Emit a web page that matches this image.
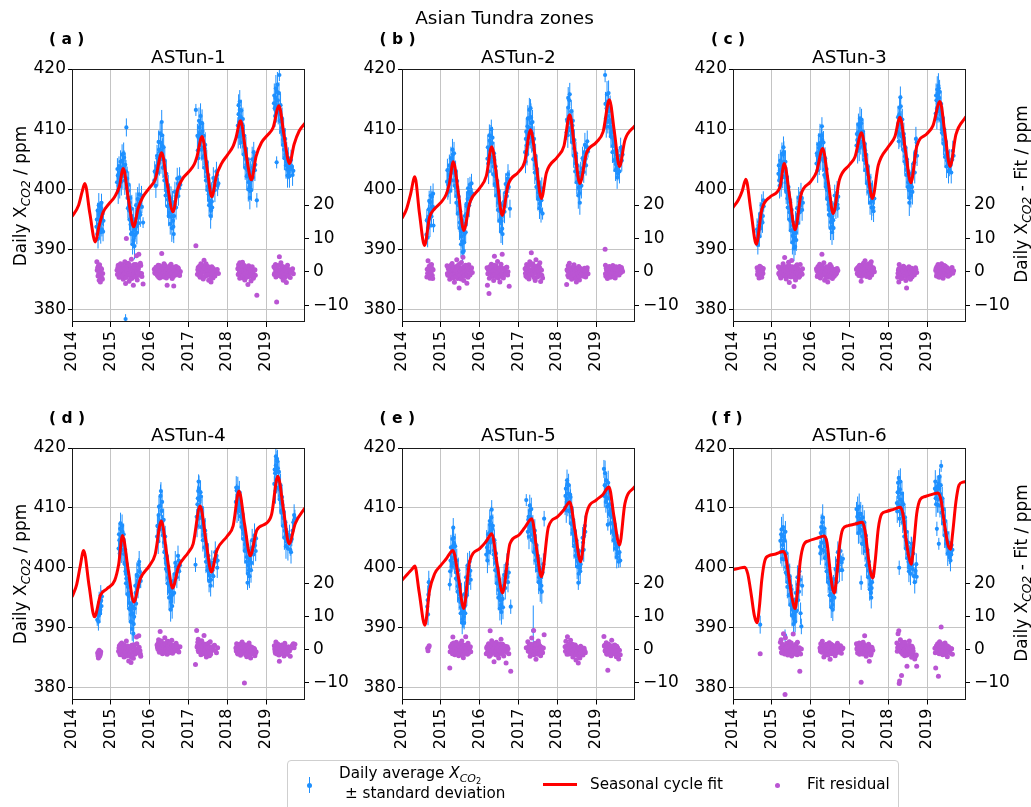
<!DOCTYPE html>
<html><head><meta charset="utf-8">
<script src="https://cdn.jsdelivr.net/npm/chart.js@4.4.0/dist/chart.umd.min.js"></script>
<style>
html,body{margin:0;padding:0;background:#fff}
body{width:1031px;height:807px;overflow:hidden;position:relative;font-family:"DejaVu Sans",sans-serif;color:#000}
.t{position:absolute;white-space:nowrap;line-height:1}
.c{transform:translate(-50%,-50%)}
.r{transform:translate(-50%,-50%) rotate(-90deg)}
.sb{font-style:italic;font-size:0.72em;position:relative;top:0.3em}
.sb2{font-size:0.75em;position:relative;top:0.25em;font-style:normal}
</style></head><body>
<script>
// ---------------- DATA ----------------
const XTICKS = [2014, 2015, 2016, 2017, 2018, 2019];
const YTICKS = [380, 390, 400, 410, 420];
const Y2TICKS = [-10, 0, 10, 20];
const TITLES = ['ASTun-1', 'ASTun-2', 'ASTun-3', 'ASTun-4', 'ASTun-5', 'ASTun-6'];
const LETTERS = ['( a )', '( b )', '( c )', '( d )', '( e )', '( f )'];

// Seasonal cycle fit  [decimal year, ppm]
const FIT_A = [[2014.00,395.5],[2014.17,397.4],[2014.26,399.6],[2014.33,401.0],[2014.46,396.0],[2014.60,391.3],[2014.70,394.0],[2014.80,396.2],[2014.95,397.6],[2015.10,398.8],[2015.22,400.5],[2015.32,403.5],[2015.45,398.5],[2015.59,393.8],[2015.70,396.8],[2015.82,398.7],[2016.00,400.3],[2016.15,401.8],[2016.31,406.1],[2016.45,401.0],[2016.60,396.3],[2016.72,400.0],[2016.85,401.8],[2017.00,402.9],[2017.15,404.2],[2017.22,405.5],[2017.35,408.8],[2017.48,403.5],[2017.60,398.8],[2017.72,402.3],[2017.85,404.3],[2018.00,405.7],[2018.15,407.2],[2018.22,408.5],[2018.34,411.4],[2018.48,406.0],[2018.62,401.6],[2018.74,405.5],[2018.88,407.8],[2019.03,409.0],[2019.18,410.3],[2019.33,413.9],[2019.46,409.0],[2019.60,404.3],[2019.72,407.5],[2019.85,409.7],[2020.00,411.0]];
const FIT_B = [[2014.00,395.2],[2014.12,396.8],[2014.22,399.2],[2014.33,402.1],[2014.45,396.0],[2014.58,390.7],[2014.71,395.4],[2014.84,396.8],[2015.01,397.9],[2015.14,399.2],[2015.22,401.0],[2015.32,404.6],[2015.46,399.0],[2015.59,393.2],[2015.75,397.9],[2016.00,400.2],[2016.17,402.2],[2016.31,407.1],[2016.45,401.5],[2016.58,395.7],[2016.73,400.7],[2017.00,402.9],[2017.16,404.6],[2017.31,409.9],[2017.45,404.5],[2017.59,398.5],[2017.72,402.8],[2018.00,405.4],[2018.17,407.2],[2018.32,412.4],[2018.45,406.5],[2018.58,401.0],[2018.75,406.0],[2019.00,407.8],[2019.18,409.6],[2019.34,414.9],[2019.47,409.5],[2019.60,403.8],[2019.74,408.2],[2020.00,410.6]];
const FIT_C = [[2014.00,397.0],[2014.14,398.3],[2014.24,399.8],[2014.33,401.7],[2014.46,396.5],[2014.60,390.9],[2014.74,396.6],[2014.96,398.8],[2015.21,400.4],[2015.32,404.3],[2015.46,398.8],[2015.60,393.3],[2015.75,399.1],[2016.00,401.3],[2016.15,402.9],[2016.31,406.8],[2016.45,401.4],[2016.58,396.0],[2016.74,401.6],[2017.00,404.1],[2017.14,405.4],[2017.31,409.4],[2017.45,404.0],[2017.59,398.5],[2017.74,404.0],[2018.00,407.1],[2018.17,408.8],[2018.30,412.0],[2018.44,406.5],[2018.58,401.1],[2018.73,407.1],[2019.00,409.3],[2019.15,410.6],[2019.33,414.6],[2019.46,409.2],[2019.59,403.8],[2019.74,409.1],[2020.00,412.1]];
const FIT_D = [[2014.00,395.1],[2014.12,397.2],[2014.21,400.2],[2014.30,402.9],[2014.44,397.0],[2014.58,391.8],[2014.73,395.4],[2014.90,396.5],[2015.10,397.9],[2015.20,400.5],[2015.30,405.4],[2015.45,399.5],[2015.59,394.3],[2015.76,398.2],[2016.00,400.4],[2016.14,402.2],[2016.30,407.8],[2016.45,401.8],[2016.59,396.6],[2016.74,400.1],[2017.00,402.6],[2017.12,404.0],[2017.30,410.3],[2017.45,404.5],[2017.59,399.3],[2017.73,402.9],[2018.00,405.3],[2018.15,407.0],[2018.30,412.8],[2018.45,407.0],[2018.59,402.0],[2018.76,406.3],[2019.00,407.4],[2019.14,408.9],[2019.30,415.3],[2019.45,409.5],[2019.59,404.0],[2019.75,407.4],[2020.00,410.0]];
const FIT_E = [[2014.00,397.9],[2014.15,399.0],[2014.25,399.7],[2014.33,400.3],[2014.44,396.0],[2014.59,390.4],[2014.71,396.2],[2014.84,399.0],[2015.00,400.4],[2015.14,401.5],[2015.31,402.9],[2015.45,398.5],[2015.59,393.2],[2015.74,401.0],[2016.00,403.2],[2016.17,404.4],[2016.31,405.7],[2016.45,400.6],[2016.59,395.8],[2016.78,404.0],[2017.00,405.4],[2017.16,406.7],[2017.34,408.2],[2017.47,403.0],[2017.59,398.5],[2017.77,406.8],[2018.00,408.5],[2018.17,409.7],[2018.32,411.0],[2018.46,406.0],[2018.60,401.0],[2018.75,409.0],[2019.00,411.3],[2019.17,412.2],[2019.33,413.5],[2019.46,408.5],[2019.60,403.8],[2019.74,410.7],[2020.00,413.6]];
const FIT_F = [[2014.00,399.7],[2014.15,399.9],[2014.30,400.1],[2014.38,399.0],[2014.47,395.5],[2014.55,392.0],[2014.62,390.8],[2014.68,393.5],[2014.74,397.9],[2014.82,401.2],[2014.92,402.0],[2015.10,402.3],[2015.30,402.7],[2015.36,401.8],[2015.44,398.5],[2015.52,395.0],[2015.60,393.2],[2015.66,396.0],[2015.73,401.0],[2015.82,403.8],[2015.95,404.5],[2016.15,404.9],[2016.35,405.3],[2016.42,404.2],[2016.50,399.5],[2016.56,396.7],[2016.61,395.8],[2016.67,398.5],[2016.74,403.5],[2016.83,406.5],[2016.95,407.0],[2017.15,407.3],[2017.33,407.6],[2017.40,406.2],[2017.48,402.0],[2017.55,399.0],[2017.60,398.3],[2017.66,401.0],[2017.74,406.5],[2017.83,409.0],[2017.95,409.4],[2018.15,409.8],[2018.31,410.1],[2018.38,408.8],[2018.46,404.5],[2018.54,401.5],[2018.59,400.6],[2018.65,403.5],[2018.73,409.0],[2018.82,411.4],[2018.95,411.9],[2019.15,412.3],[2019.28,412.5],[2019.36,411.2],[2019.44,407.5],[2019.53,404.0],[2019.60,403.1],[2019.66,406.0],[2019.74,411.0],[2019.82,413.8],[2019.92,414.3],[2020.00,414.4]];

// Daily average XCO2  [decimal year, ppm, standard deviation]
const OBS_A = [[2014.63,393.8,1.5],[2014.65,392.6,1.2],[2014.66,396.5,1.3],[2014.68,394.2,1.4],[2014.70,395.8,2.0],[2014.71,393.0,1.1],[2014.73,397.0,1.0],[2014.75,395.2,1.5],[2014.77,393.4,1.2],[2014.79,396.1,1.0],[2014.81,394.8,0.9],
[2015.16,401.2,1.5],[2015.18,402.3,1.2],[2015.20,400.6,1.4],[2015.22,402.8,1.0],[2015.24,401.9,1.6],[2015.26,403.6,1.2],[2015.28,402.5,1.1],[2015.30,404.8,1.3],[2015.32,403.9,1.5],[2015.34,405.3,1.2],[2015.35,402.9,1.0],[2015.37,404.1,1.8],[2015.38,378.5,0.8],[2015.40,410.3,1.5],[2015.41,400.2,1.3],[2015.43,398.6,1.5],[2015.45,399.8,1.1],[2015.47,396.5,1.6],[2015.49,397.8,1.2],[2015.51,394.2,1.4],[2015.53,395.6,1.7],[2015.55,392.8,1.2],[2015.57,394.4,1.5],[2015.58,391.5,1.3],[2015.60,393.3,1.8],[2015.62,392.4,1.1],[2015.64,395.1,1.5],[2015.66,393.9,1.2],[2015.68,396.8,1.4],[2015.70,395.4,1.0],[2015.72,397.6,1.3],[2015.74,396.2,1.2],[2015.77,398.3,1.1],[2015.80,397.1,1.0],[2015.83,394.5,0.9],
[2016.12,401.5,1.2],[2016.15,402.8,1.0],[2016.18,403.9,1.4],[2016.20,405.2,1.1],[2016.22,404.3,1.3],[2016.24,406.6,1.5],[2016.26,405.5,1.0],[2016.28,407.8,1.6],[2016.30,406.4,1.2],[2016.31,411.2,2.0],[2016.33,407.2,1.3],[2016.35,405.1,1.1],[2016.37,403.8,1.5],[2016.40,402.2,1.2],[2016.42,400.8,1.4],[2016.45,399.6,1.0],[2016.47,398.3,1.3],[2016.50,397.4,1.5],[2016.52,396.2,1.1],[2016.54,397.1,1.2],[2016.56,395.5,1.4],[2016.58,396.8,1.0],[2016.60,394.8,1.6],[2016.62,392.6,1.5],[2016.64,397.5,1.2],[2016.67,398.9,1.0],[2016.70,399.7,1.3],[2016.73,401.0,1.1],[2016.76,400.2,1.0],[2016.79,400.8,0.9],
[2017.19,413.2,1.0],[2017.24,406.5,1.5],[2017.26,408.6,1.2],[2017.28,410.3,1.4],[2017.30,409.2,1.1],[2017.32,411.0,1.6],[2017.34,408.1,1.2],[2017.36,409.7,1.0],[2017.38,407.0,1.5],[2017.40,405.6,1.3],[2017.42,406.8,1.1],[2017.44,404.2,1.4],[2017.46,403.0,1.2],[2017.48,402.1,1.0],[2017.50,400.5,1.3],[2017.52,399.2,1.1],[2017.54,398.1,1.5],[2017.56,397.3,1.2],[2017.58,396.5,1.6],[2017.60,398.0,1.0],[2017.63,399.8,1.2],[2017.66,401.3,1.0],[2017.70,401.8,1.1],[2017.74,402.4,0.9],[2017.77,401.0,1.0],
[2018.27,410.6,1.4],[2018.29,412.5,1.2],[2018.30,411.2,1.0],[2018.32,413.2,1.5],[2018.33,410.4,1.1],[2018.35,412.0,1.3],[2018.37,409.5,1.2],[2018.39,410.8,1.0],[2018.41,408.2,1.4],[2018.43,407.1,1.1],[2018.45,406.0,1.3],[2018.47,405.2,1.0],[2018.49,404.1,1.2],[2018.51,403.3,1.5],[2018.53,402.5,1.1],[2018.55,401.2,1.3],[2018.57,400.4,1.0],[2018.59,399.8,1.2],[2018.61,401.5,1.1],[2018.63,402.8,1.4],[2018.65,403.6,1.0],[2018.67,404.9,1.2],[2018.70,405.2,1.0],[2018.72,404.1,1.1],[2018.76,398.2,1.2],
[2019.20,414.3,1.3],[2019.22,413.5,1.1],[2019.24,415.2,1.4],[2019.26,414.0,1.2],[2019.27,404.5,1.0],[2019.28,416.2,1.5],[2019.30,414.8,1.1],[2019.32,413.0,1.3],[2019.34,419.0,1.0],[2019.36,412.5,1.4],[2019.38,411.3,1.2],[2019.40,410.2,1.0],[2019.42,409.1,1.3],[2019.44,408.3,1.1],[2019.46,406.6,1.4],[2019.48,407.4,1.0],[2019.50,405.8,1.2],[2019.52,404.6,1.1],[2019.54,403.3,1.5],[2019.56,404.0,1.0],[2019.58,402.9,1.2],[2019.62,403.4,1.0],[2019.66,403.8,1.1],[2019.70,403.1,0.9],
[2014.64,395.0,1.8],[2014.67,391.8,1.6],[2014.69,397.4,2.0],[2014.72,396.3,1.7],[2014.74,392.9,1.9],[2014.76,397.8,1.5],[2014.78,395.9,1.8],[2014.80,393.0,1.6],
[2015.17,403.4,1.8],[2015.19,399.8,2.2],[2015.21,403.9,1.6],[2015.23,400.5,2.0],[2015.25,404.6,1.9],[2015.27,401.3,2.3],[2015.29,405.8,1.7],[2015.31,402.2,2.1],[2015.33,406.0,1.8],[2015.36,401.5,2.4],[2015.39,403.0,1.9],[2015.42,401.8,2.0],[2015.44,396.9,1.7],[2015.46,400.8,2.2],[2015.48,395.0,1.8],[2015.50,398.6,2.1],[2015.52,392.6,1.9],[2015.54,396.8,2.3],[2015.56,390.9,1.7],[2015.59,395.0,2.0],[2015.61,390.6,2.2],[2015.63,393.5,1.8],[2015.65,397.4,2.1],[2015.67,392.8,1.9],[2015.69,398.4,2.0],[2015.71,394.4,1.7],[2015.73,399.2,1.8],[2015.76,395.8,2.0],[2015.79,399.0,1.6],
[2016.13,403.0,1.7],[2016.16,400.6,2.0],[2016.19,405.6,1.8],[2016.21,402.8,2.2],[2016.23,407.9,1.9],[2016.25,404.4,2.1],[2016.27,409.3,1.8],[2016.29,405.0,2.4],[2016.32,409.0,2.0],[2016.34,403.6,1.7],[2016.36,407.0,2.2],[2016.38,401.5,1.9],[2016.39,404.8,2.0],[2016.41,399.0,1.8],[2016.43,402.6,2.1],[2016.46,397.2,1.9],[2016.48,400.4,2.0],[2016.49,395.6,1.7],[2016.51,398.8,2.2],[2016.53,394.3,1.8],[2016.55,398.5,2.0],[2016.57,393.6,2.3],[2016.59,397.9,1.9],[2016.61,393.8,2.1],[2016.63,395.6,1.8],[2016.65,399.6,1.7],[2016.68,397.0,2.0],[2016.71,401.8,1.8],[2016.74,398.9,1.6],[2016.77,402.0,1.7],
[2017.23,408.9,2.0],[2017.25,405.2,1.8],[2017.27,411.4,2.2],[2017.29,407.4,1.9],[2017.31,412.2,2.1],[2017.33,406.6,1.8],[2017.35,411.0,2.3],[2017.37,405.3,1.9],[2017.39,408.9,2.0],[2017.41,403.6,1.7],[2017.43,407.4,2.1],[2017.45,401.5,1.8],[2017.47,404.6,2.0],[2017.49,399.9,1.9],[2017.51,402.4,2.2],[2017.53,397.4,1.8],[2017.55,400.0,2.0],[2017.57,395.6,2.1],[2017.59,399.3,1.9],[2017.61,397.0,1.7],[2017.64,401.9,1.8],[2017.68,399.9,2.0],[2017.72,403.0,1.6],[2017.75,400.6,1.7],
[2018.28,408.8,2.0],[2018.29,414.0,1.8],[2018.31,409.6,2.2],[2018.32,414.6,1.9],[2018.34,408.9,2.1],[2018.36,413.1,1.8],[2018.38,407.8,2.0],[2018.40,411.7,1.9],[2018.42,405.8,2.2],[2018.44,408.9,1.8],[2018.46,403.6,2.0],[2018.48,406.8,1.9],[2018.50,402.2,2.1],[2018.52,405.0,1.8],[2018.54,400.0,2.0],[2018.56,403.1,2.2],[2018.58,398.6,1.9],[2018.60,402.7,2.0],[2018.62,399.9,1.8],[2018.64,405.0,2.1],[2018.66,402.0,1.9],[2018.68,406.2,1.7],[2018.71,403.2,1.8],
[2019.21,415.6,2.0],[2019.23,412.2,1.8],[2019.25,416.8,2.2],[2019.27,413.0,1.9],[2019.29,417.4,2.1],[2019.31,412.8,2.0],[2019.33,416.0,1.8],[2019.35,411.4,2.2],[2019.37,414.0,1.9],[2019.39,409.6,2.0],[2019.41,411.8,1.8],[2019.43,407.4,2.1],[2019.45,409.8,1.9],[2019.47,405.2,2.0],[2019.49,408.4,1.8],[2019.51,404.0,2.2],[2019.53,406.0,1.9],[2019.55,402.3,2.0],[2019.57,405.2,1.8],[2019.60,402.2,1.9],[2019.64,404.9,1.7],[2019.68,402.4,1.8]];
const OBS_B = [[2014.63,392.5,1.3],[2014.65,394.8,1.0],[2014.67,393.6,1.5],[2014.69,396.7,1.2],[2014.71,395.2,1.4],[2014.73,397.9,1.1],[2014.75,396.3,1.3],[2014.77,398.8,1.0],[2014.79,397.2,1.2],[2014.81,394.0,1.1],
[2015.16,401.3,1.6],[2015.18,399.5,1.2],[2015.21,402.4,1.4],[2015.23,401.6,1.0],[2015.25,403.5,1.3],[2015.27,402.8,1.1],[2015.29,404.6,1.5],[2015.31,405.8,1.2],[2015.33,404.2,1.4],[2015.35,403.1,1.0],[2015.37,401.5,1.3],[2015.39,400.3,1.6],[2015.41,398.9,1.1],[2015.43,399.7,1.2],[2015.45,397.4,1.4],[2015.47,396.2,1.0],[2015.49,394.5,1.5],[2015.51,393.1,1.2],[2015.53,392.2,1.3],[2015.55,391.4,1.1],[2015.57,393.8,1.6],[2015.59,389.8,1.2],[2015.61,392.6,1.4],[2015.63,394.3,1.1],[2015.65,395.9,1.3],[2015.67,397.2,1.0],[2015.69,398.4,1.2],[2015.72,399.6,1.1],[2015.75,400.8,1.3],[2015.78,398.7,1.0],[2015.81,399.3,0.9],
[2016.20,405.1,1.4],[2016.22,404.3,1.1],[2016.24,406.6,1.3],[2016.26,408.1,1.5],[2016.28,406.9,1.0],[2016.30,410.0,1.6],[2016.32,407.7,1.2],[2016.34,405.4,1.4],[2016.36,403.8,1.1],[2016.38,404.9,1.3],[2016.40,402.2,1.0],[2016.42,400.6,1.5],[2016.44,401.5,1.2],[2016.46,399.1,1.1],[2016.48,397.8,1.4],[2016.50,398.6,1.0],[2016.52,396.4,1.3],[2016.54,395.2,1.1],[2016.56,394.7,1.2],[2016.58,393.5,1.0],[2016.60,396.1,1.4],[2016.63,398.0,1.1],[2016.66,399.5,1.3],[2016.69,400.9,1.0],[2016.72,401.8,1.2],[2016.75,400.4,1.0],[2016.78,396.8,1.5],
[2017.17,406.2,1.3],[2017.19,408.4,1.1],[2017.21,407.3,1.5],[2017.23,410.5,1.2],[2017.25,409.1,1.4],[2017.27,411.8,1.0],[2017.29,410.2,1.3],[2017.31,413.5,1.5],[2017.33,411.0,1.2],[2017.35,409.3,1.1],[2017.37,408.0,1.4],[2017.39,406.6,1.0],[2017.41,405.2,1.3],[2017.43,404.1,1.1],[2017.45,403.0,1.2],[2017.47,401.8,1.0],[2017.49,400.6,1.4],[2017.51,399.5,1.1],[2017.53,398.8,1.3],[2017.55,397.6,1.0],[2017.57,399.9,1.2],[2017.59,398.2,1.1],[2017.62,396.0,1.0],
[2018.24,409.5,1.3],[2018.26,411.3,1.1],[2018.28,413.6,1.5],[2018.29,410.2,1.2],[2018.31,414.8,1.4],[2018.33,412.1,1.0],[2018.35,411.0,1.3],[2018.37,409.4,1.2],[2018.39,410.6,1.0],[2018.41,408.0,1.4],[2018.43,406.8,1.1],[2018.45,405.5,1.3],[2018.47,404.3,1.0],[2018.49,403.6,1.2],[2018.51,402.4,1.1],[2018.53,401.2,1.4],[2018.55,400.3,1.0],[2018.57,399.4,1.3],[2018.59,400.8,1.1],[2018.61,402.0,1.2],[2018.64,403.5,1.0],[2018.67,404.8,1.3],[2018.70,406.2,1.1],[2018.73,405.1,1.0],[2018.76,407.0,1.2],[2018.79,406.3,1.0],
[2019.23,419.0,1.2],[2019.25,411.8,1.1],[2019.27,413.5,1.4],[2019.29,412.2,1.0],[2019.31,414.6,1.3],[2019.33,413.0,1.2],[2019.35,411.5,1.1],[2019.37,410.3,1.4],[2019.39,409.4,1.0],[2019.41,408.6,1.2],[2019.43,407.2,1.1],[2019.45,408.1,1.0],[2019.47,406.3,1.3],[2019.49,405.0,1.1],[2019.51,404.2,1.2],[2019.53,403.6,1.0],[2019.56,402.6,1.1],[2019.59,404.5,1.0],[2019.62,405.6,1.1],[2019.65,406.4,1.0],[2019.68,405.8,0.9],
[2014.64,394.9,1.8],[2014.66,392.0,1.6],[2014.68,395.4,2.0],[2014.70,398.1,1.7],[2014.72,394.0,1.9],[2014.74,399.0,1.6],[2014.76,395.5,1.8],[2014.78,397.1,1.5],[2014.80,399.3,1.7],
[2015.17,403.2,1.9],[2015.19,400.8,2.1],[2015.22,404.0,1.8],[2015.24,399.8,2.2],[2015.26,405.2,1.9],[2015.28,401.5,2.0],[2015.30,406.6,1.8],[2015.32,402.8,2.3],[2015.34,406.0,1.9],[2015.36,400.6,2.0],[2015.38,403.0,1.8],[2015.40,397.8,2.1],[2015.42,401.4,1.9],[2015.44,396.0,2.2],[2015.46,398.8,1.8],[2015.48,393.6,2.0],[2015.50,396.4,1.9],[2015.52,390.9,2.1],[2015.54,394.0,1.8],[2015.56,389.6,2.0],[2015.58,393.0,2.2],[2015.60,391.2,1.9],[2015.62,395.6,2.0],[2015.64,392.9,1.8],[2015.66,397.6,2.1],[2015.68,395.8,1.9],[2015.70,400.2,1.7],[2015.73,397.4,2.0],[2015.76,399.2,1.8],[2015.79,401.0,1.6],
[2016.21,407.0,1.9],[2016.23,403.0,2.1],[2016.25,409.0,1.8],[2016.27,405.0,2.2],[2016.29,408.8,1.9],[2016.31,404.6,2.0],[2016.33,408.6,1.8],[2016.35,402.5,2.1],[2016.37,406.0,1.9],[2016.39,400.9,2.2],[2016.41,403.8,1.8],[2016.43,399.0,2.0],[2016.45,401.4,1.9],[2016.47,396.6,2.1],[2016.49,399.8,1.8],[2016.51,394.8,2.0],[2016.53,397.6,2.2],[2016.55,393.0,1.9],[2016.57,396.0,2.0],[2016.59,392.6,1.8],[2016.61,397.4,2.1],[2016.64,396.3,1.9],[2016.67,400.9,1.8],[2016.70,398.9,2.0],[2016.73,402.5,1.7],[2016.76,401.6,1.6],
[2017.18,404.6,1.9],[2017.20,409.6,2.1],[2017.22,405.8,1.8],[2017.24,411.8,2.2],[2017.26,407.6,1.9],[2017.28,413.2,2.0],[2017.30,408.6,1.8],[2017.32,412.0,2.3],[2017.34,408.0,1.9],[2017.36,411.2,2.0],[2017.38,405.0,1.8],[2017.40,408.4,2.1],[2017.42,402.8,1.9],[2017.44,405.6,2.0],[2017.46,400.4,1.8],[2017.48,403.4,2.1],[2017.50,398.4,1.9],[2017.52,401.2,2.0],[2017.54,396.9,1.8],[2017.56,399.4,2.1],[2017.58,396.4,1.9],[2017.60,400.2,1.8],
[2018.25,411.6,1.9],[2018.27,409.0,2.1],[2018.28,415.2,1.8],[2018.30,412.0,2.2],[2018.32,415.8,1.9],[2018.34,409.8,2.0],[2018.36,413.0,1.8],[2018.38,407.8,2.1],[2018.40,411.4,1.9],[2018.42,405.6,2.0],[2018.44,408.2,1.8],[2018.46,403.0,2.1],[2018.48,406.0,1.9],[2018.50,401.2,2.0],[2018.52,404.0,1.8],[2018.54,399.0,2.2],[2018.56,402.0,1.9],[2018.58,397.8,2.0],[2018.60,402.8,1.8],[2018.62,400.6,2.1],[2018.65,405.2,1.9],[2018.68,402.9,1.8],[2018.71,407.4,2.0],[2018.74,404.0,1.7],[2018.77,408.0,1.8],
[2019.24,414.2,2.0],[2019.26,410.4,1.8],[2019.28,415.8,2.2],[2019.30,411.2,1.9],[2019.32,416.0,2.1],[2019.34,410.4,1.8],[2019.36,413.6,2.0],[2019.38,408.8,1.9],[2019.40,411.2,2.2],[2019.42,406.2,1.8],[2019.44,409.8,2.0],[2019.46,404.8,1.9],[2019.48,407.6,2.1],[2019.50,403.2,1.8],[2019.52,405.8,2.0],[2019.54,402.0,1.9],[2019.57,404.9,1.8],[2019.60,403.0,2.0],[2019.63,406.9,1.7],[2019.66,404.8,1.8]];
const OBS_C = [[2014.61,391.8,1.2],[2014.63,393.0,1.0],[2014.65,392.4,1.4],[2014.67,394.6,1.1],[2014.69,393.5,1.3],[2014.71,395.8,1.0],[2014.73,394.9,1.2],[2014.75,396.8,1.1],[2014.77,395.6,1.0],[2014.79,397.2,0.9],
[2015.17,402.6,1.3],[2015.19,401.5,1.1],[2015.21,403.2,1.4],[2015.23,402.1,1.0],[2015.25,404.5,1.3],[2015.27,403.4,1.1],[2015.29,405.8,1.5],[2015.30,407.0,1.8],[2015.32,404.6,1.2],[2015.34,403.0,1.0],[2015.36,401.2,1.4],[2015.38,399.8,1.2],[2015.40,398.5,1.1],[2015.42,399.2,1.3],[2015.44,397.0,1.0],[2015.46,396.2,1.4],[2015.48,394.8,1.2],[2015.50,395.6,1.1],[2015.52,393.2,1.3],[2015.54,392.3,1.0],[2015.56,391.5,1.5],[2015.58,393.6,1.2],[2015.60,390.5,1.4],[2015.62,392.8,1.1],[2015.64,394.5,1.3],[2015.66,395.8,1.0],[2015.68,396.9,1.2],[2015.71,398.0,1.1],[2015.74,397.3,1.0],[2015.77,398.6,1.2],[2015.80,397.8,0.9],
[2016.15,404.3,1.2],[2016.17,405.6,1.0],[2016.19,404.8,1.3],[2016.21,406.9,1.1],[2016.23,405.8,1.4],[2016.25,407.7,1.2],[2016.27,406.5,1.0],[2016.29,410.5,1.5],[2016.30,408.2,1.3],[2016.32,406.0,1.1],[2016.34,404.7,1.4],[2016.36,403.3,1.0],[2016.38,402.0,1.2],[2016.40,401.0,1.1],[2016.42,399.9,1.3],[2016.44,398.6,1.0],[2016.46,397.5,1.2],[2016.48,396.6,1.1],[2016.50,395.7,1.4],[2016.52,394.6,1.0],[2016.54,395.4,1.2],[2016.56,393.8,1.1],[2016.58,394.9,1.3],[2016.60,396.5,1.0],[2016.63,397.6,1.2],[2016.66,398.3,1.0],[2016.69,397.5,1.1],[2016.71,398.8,0.9],
[2017.18,407.3,1.2],[2017.20,408.2,1.0],[2017.22,409.5,1.3],[2017.24,407.6,1.1],[2017.26,410.4,1.4],[2017.28,408.9,1.2],[2017.30,411.0,1.1],[2017.32,409.6,1.3],[2017.34,408.0,1.0],[2017.36,406.8,1.2],[2017.38,405.7,1.1],[2017.40,406.5,1.4],[2017.42,404.3,1.0],[2017.44,403.5,1.2],[2017.46,402.6,1.1],[2017.48,401.4,1.3],[2017.50,400.5,1.0],[2017.52,399.8,1.2],[2017.54,398.9,1.1],[2017.56,399.6,1.0],[2017.58,398.2,1.2],[2017.61,397.0,1.4],[2017.64,398.5,1.0],
[2018.24,409.6,1.2],[2018.26,411.0,1.0],[2018.27,408.0,1.3],[2018.28,412.4,1.1],[2018.30,410.8,1.4],[2018.31,415.3,1.8],[2018.33,411.8,1.2],[2018.35,410.2,1.0],[2018.37,409.1,1.3],[2018.39,407.6,1.1],[2018.41,406.4,1.2],[2018.43,405.5,1.0],[2018.45,404.2,1.3],[2018.47,403.3,1.1],[2018.49,402.5,1.2],[2018.51,401.2,1.0],[2018.53,399.9,1.4],[2018.55,398.6,1.2],[2018.57,400.5,1.1],[2018.59,401.8,1.0],[2018.61,400.4,1.2],[2018.64,402.9,1.0],[2018.67,404.5,1.3],[2018.70,406.3,1.1],[2018.73,407.8,1.0],
[2019.22,412.6,1.2],[2019.24,414.8,1.0],[2019.25,413.4,1.3],[2019.27,416.0,1.1],[2019.28,414.3,1.4],[2019.30,416.8,1.2],[2019.31,415.2,1.0],[2019.33,413.9,1.3],[2019.35,412.4,1.1],[2019.37,411.3,1.2],[2019.39,410.0,1.0],[2019.41,409.2,1.3],[2019.43,408.3,1.1],[2019.45,407.5,1.0],[2019.47,406.6,1.2],[2019.49,405.7,1.1],[2019.51,404.8,1.0],[2019.54,404.3,1.2],[2019.57,403.2,1.0],[2019.60,404.0,1.1],[2019.64,405.0,1.0],[2019.68,405.6,0.9],
[2014.62,393.4,1.8],[2014.64,390.8,1.6],[2014.66,394.0,2.0],[2014.68,392.2,1.7],[2014.70,396.0,1.9],[2014.72,393.6,1.6],[2014.74,397.4,1.8],[2014.76,394.5,1.7],[2014.78,398.2,1.5],
[2015.18,404.0,1.9],[2015.20,400.6,2.1],[2015.22,404.8,1.8],[2015.24,401.0,2.2],[2015.26,405.9,1.9],[2015.28,402.2,2.0],[2015.31,406.2,1.8],[2015.33,402.0,2.3],[2015.35,404.6,1.9],[2015.37,399.6,2.0],[2015.39,401.9,1.8],[2015.41,397.0,2.1],[2015.43,400.4,1.9],[2015.45,395.0,2.0],[2015.47,397.9,1.8],[2015.49,393.2,2.2],[2015.51,396.6,1.9],[2015.53,391.2,2.0],[2015.55,394.0,1.8],[2015.57,390.2,2.1],[2015.59,392.0,1.9],[2015.61,394.4,2.0],[2015.63,391.6,1.8],[2015.65,396.9,2.1],[2015.67,394.4,1.9],[2015.69,398.6,1.8],[2015.72,396.2,2.0],[2015.75,399.4,1.7],[2015.78,396.6,1.8],
[2016.16,406.0,1.9],[2016.18,403.2,2.1],[2016.20,407.5,1.8],[2016.22,404.6,2.2],[2016.24,409.0,1.9],[2016.26,405.2,2.0],[2016.28,408.9,1.8],[2016.31,405.0,2.1],[2016.33,407.8,1.9],[2016.35,402.4,2.0],[2016.37,405.2,1.8],[2016.39,400.4,2.2],[2016.41,403.4,1.9],[2016.43,398.4,2.0],[2016.45,400.6,1.8],[2016.47,395.8,2.1],[2016.49,398.4,1.9],[2016.51,393.6,2.0],[2016.53,396.9,1.8],[2016.55,392.9,2.1],[2016.57,396.2,1.9],[2016.59,393.6,2.0],[2016.62,399.0,1.8],[2016.65,396.8,1.7],[2016.68,399.5,1.9],[2016.70,396.9,1.6],
[2017.19,409.2,1.9],[2017.21,406.4,2.1],[2017.23,410.8,1.8],[2017.25,406.9,2.2],[2017.27,411.8,1.9],[2017.29,407.8,2.0],[2017.31,411.6,1.8],[2017.33,407.2,2.1],[2017.35,409.6,1.9],[2017.37,404.9,2.0],[2017.39,407.6,1.8],[2017.41,403.2,2.1],[2017.43,405.8,1.9],[2017.45,401.0,2.0],[2017.47,403.9,1.8],[2017.49,399.6,2.1],[2017.51,402.0,1.9],[2017.53,397.8,2.0],[2017.55,400.8,1.8],[2017.57,397.0,2.1],[2017.59,399.6,1.9],[2017.62,396.4,1.8],
[2018.25,412.0,1.9],[2018.27,410.8,2.1],[2018.29,413.6,1.8],[2018.30,409.2,2.2],[2018.32,413.8,1.9],[2018.34,408.8,2.0],[2018.36,411.6,1.8],[2018.38,406.6,2.1],[2018.40,409.2,1.9],[2018.42,404.6,2.0],[2018.44,407.0,1.8],[2018.46,402.4,2.1],[2018.48,405.0,1.9],[2018.50,400.4,2.0],[2018.52,403.0,1.8],[2018.54,397.8,2.2],[2018.56,401.0,1.9],[2018.58,399.0,2.0],[2018.60,402.6,1.8],[2018.62,399.6,2.1],[2018.65,404.3,1.9],[2018.68,402.8,1.8],[2018.71,408.4,2.0],[2018.74,405.6,1.7],
[2019.23,415.6,2.0],[2019.25,411.8,1.8],[2019.26,416.6,2.2],[2019.28,413.0,1.9],[2019.29,417.2,2.1],[2019.31,413.6,1.8],[2019.32,416.2,2.0],[2019.34,411.6,1.9],[2019.36,414.2,2.2],[2019.38,409.4,1.8],[2019.40,411.8,2.0],[2019.42,407.6,1.9],[2019.44,410.0,2.1],[2019.46,405.4,1.8],[2019.48,408.0,2.0],[2019.50,403.8,1.9],[2019.52,406.2,1.8],[2019.55,403.0,2.0],[2019.58,404.8,1.9],[2019.62,402.8,1.8],[2019.66,406.4,1.7]];
const OBS_D = [[2014.65,391.3,1.0],[2014.67,392.8,1.2],[2014.69,392.0,1.1],[2014.71,393.6,1.3],[2014.73,393.0,1.0],[2014.75,394.5,1.2],[2014.77,395.2,1.1],
[2015.20,403.2,1.4],[2015.22,404.6,1.1],[2015.24,406.5,1.3],[2015.26,405.3,1.0],[2015.28,403.8,1.5],[2015.30,406.0,1.2],[2015.32,404.1,1.1],[2015.34,402.3,1.4],[2015.36,400.6,1.0],[2015.38,399.4,1.3],[2015.40,398.2,1.1],[2015.42,399.1,1.2],[2015.44,396.8,1.4],[2015.46,395.3,1.0],[2015.48,394.1,1.3],[2015.50,393.0,1.2],[2015.52,392.2,1.1],[2015.54,390.9,1.4],[2015.56,393.5,1.0],[2015.58,389.0,1.5],[2015.60,391.8,1.2],[2015.62,394.6,1.1],[2015.64,395.8,1.3],[2015.66,397.1,1.0],[2015.69,398.6,1.2],[2015.72,400.5,1.1],[2015.75,399.3,1.0],[2015.77,397.8,1.2],
[2016.19,405.2,1.3],[2016.21,406.9,1.1],[2016.23,408.8,1.4],[2016.25,407.2,1.2],[2016.27,410.3,1.6],[2016.29,412.8,1.5],[2016.31,409.5,1.2],[2016.33,407.8,1.0],[2016.35,405.6,1.3],[2016.37,404.2,1.1],[2016.39,402.8,1.4],[2016.41,401.6,1.0],[2016.43,400.5,1.2],[2016.45,399.4,1.1],[2016.47,398.3,1.3],[2016.49,397.2,1.0],[2016.51,396.0,1.2],[2016.53,395.1,1.4],[2016.55,394.3,1.1],[2016.57,396.6,1.0],[2016.59,395.5,1.2],[2016.62,397.8,1.1],[2016.65,399.0,1.3],[2016.68,400.2,1.0],[2016.72,399.6,1.1],[2016.75,401.2,1.0],[2016.78,400.4,0.9],
[2017.18,400.5,1.2],[2017.21,408.5,1.3],[2017.23,410.6,1.1],[2017.25,412.8,1.4],[2017.26,414.4,1.2],[2017.28,411.3,1.0],[2017.30,409.6,1.3],[2017.32,411.9,1.1],[2017.34,408.3,1.4],[2017.36,406.9,1.0],[2017.38,405.5,1.2],[2017.40,406.4,1.1],[2017.42,404.7,1.3],[2017.44,403.2,1.0],[2017.46,402.1,1.2],[2017.48,401.0,1.1],[2017.50,400.2,1.3],[2017.52,399.5,1.0],[2017.54,398.7,1.2],[2017.56,400.3,1.1],[2017.58,398.0,1.0],[2017.62,399.6,1.2],[2017.67,401.4,1.1],[2017.72,402.0,1.3],[2017.75,401.2,1.0],
[2018.22,411.0,1.3],[2018.24,412.9,1.1],[2018.26,410.3,1.4],[2018.28,412.2,1.0],[2018.30,411.4,1.2],[2018.32,410.6,1.1],[2018.34,409.4,1.3],[2018.36,408.7,1.0],[2018.38,407.6,1.2],[2018.40,406.4,1.1],[2018.42,405.8,1.3],[2018.44,404.8,1.0],[2018.46,403.9,1.2],[2018.48,403.1,1.1],[2018.50,401.8,1.3],[2018.52,397.5,1.2],[2018.54,400.4,1.0],[2018.56,399.6,1.3],[2018.58,401.2,1.1],[2018.60,402.5,1.0],[2018.62,400.8,1.2],[2018.65,403.4,1.1],[2018.68,404.5,1.0],[2018.71,403.7,1.2],[2018.74,404.9,1.0],
[2019.21,414.0,1.3],[2019.23,415.8,1.1],[2019.25,417.1,1.4],[2019.26,416.0,1.2],[2019.28,418.2,1.3],[2019.30,416.6,1.0],[2019.32,414.5,1.2],[2019.34,413.1,1.1],[2019.36,412.0,1.3],[2019.38,410.8,1.0],[2019.40,409.6,1.2],[2019.42,410.5,1.4],[2019.44,408.3,1.0],[2019.46,407.1,1.2],[2019.48,406.2,1.1],[2019.50,405.3,1.0],[2019.52,404.4,1.2],[2019.55,405.6,1.0],[2019.58,404.2,1.1],[2019.62,403.0,1.0],[2019.66,404.8,1.2],[2019.70,407.6,1.1],[2019.74,408.3,1.4],
[2014.66,392.6,1.7],[2014.68,391.0,1.5],[2014.70,394.2,1.8],[2014.72,392.4,1.6],[2014.74,395.4,1.7],[2014.76,393.6,1.5],
[2015.21,405.6,1.9],[2015.23,402.4,2.1],[2015.25,407.4,1.8],[2015.27,403.0,2.2],[2015.29,407.0,1.9],[2015.31,403.0,2.0],[2015.33,405.6,1.8],[2015.35,400.8,2.1],[2015.37,403.0,1.9],[2015.39,397.4,2.0],[2015.41,400.6,1.8],[2015.43,395.6,2.2],[2015.45,398.2,1.9],[2015.47,393.2,2.0],[2015.49,395.8,1.8],[2015.51,391.0,2.1],[2015.53,393.8,1.9],[2015.55,389.8,2.0],[2015.57,392.3,1.8],[2015.59,390.6,2.1],[2015.61,393.2,1.9],[2015.63,397.0,2.0],[2015.65,394.0,1.8],[2015.67,398.8,2.1],[2015.70,396.8,1.9],[2015.73,401.0,1.8],[2015.76,398.4,1.7],
[2016.20,407.0,1.9],[2016.22,404.4,2.1],[2016.24,410.2,1.8],[2016.26,406.4,2.2],[2016.28,412.0,1.9],[2016.30,407.8,2.0],[2016.32,411.0,1.8],[2016.34,405.4,2.1],[2016.36,408.0,1.9],[2016.38,402.6,2.0],[2016.40,405.2,1.8],[2016.42,399.8,2.1],[2016.44,402.0,1.9],[2016.46,397.4,2.0],[2016.48,400.2,1.8],[2016.50,395.0,2.1],[2016.52,397.6,1.9],[2016.54,393.0,2.0],[2016.56,395.4,1.8],[2016.58,393.6,2.1],[2016.60,397.2,1.9],[2016.63,395.8,1.8],[2016.66,400.8,2.0],[2016.70,398.4,1.8],[2016.73,402.0,1.7],[2016.76,399.4,1.6],
[2017.22,407.0,1.9],[2017.24,411.6,2.1],[2017.25,408.2,1.8],[2017.27,413.2,2.2],[2017.29,408.4,1.9],[2017.31,412.6,2.0],[2017.33,406.8,1.8],[2017.35,410.0,2.1],[2017.37,404.6,1.9],[2017.39,407.8,2.0],[2017.41,403.4,1.8],[2017.43,406.2,2.1],[2017.45,401.0,1.9],[2017.47,403.8,2.0],[2017.49,399.6,1.8],[2017.51,402.0,2.1],[2017.53,397.8,1.9],[2017.55,399.6,2.0],[2017.57,397.0,1.8],[2017.60,400.8,2.1],[2017.64,398.6,1.9],[2017.69,402.6,1.8],[2017.74,400.0,1.7],
[2018.23,413.4,1.9],[2018.25,409.6,2.1],[2018.27,413.4,1.8],[2018.29,410.0,2.2],[2018.31,412.6,1.9],[2018.33,408.6,2.0],[2018.35,411.0,1.8],[2018.37,406.8,2.1],[2018.39,409.0,1.9],[2018.41,404.8,2.0],[2018.43,407.2,1.8],[2018.45,402.8,2.1],[2018.47,405.2,1.9],[2018.49,401.0,2.0],[2018.51,403.4,1.8],[2018.53,399.0,2.1],[2018.55,401.6,1.9],[2018.57,398.6,2.0],[2018.59,402.8,1.8],[2018.61,399.6,2.1],[2018.64,404.6,1.9],[2018.67,402.2,1.8],[2018.70,405.4,2.0],[2018.73,402.8,1.7],
[2019.22,416.4,1.9],[2019.24,412.8,2.1],[2019.25,418.6,1.8],[2019.27,414.6,2.2],[2019.29,417.8,1.9],[2019.31,413.4,2.0],[2019.33,416.0,1.8],[2019.35,411.4,2.1],[2019.37,413.8,1.9],[2019.39,409.2,2.0],[2019.41,411.8,1.8],[2019.43,407.0,2.1],[2019.45,409.4,1.9],[2019.47,405.0,2.0],[2019.49,407.6,1.8],[2019.51,403.6,2.1],[2019.53,406.0,1.9],[2019.56,403.2,2.0],[2019.60,405.4,1.8],[2019.64,402.6,1.9],[2019.68,406.2,2.0],[2019.72,408.8,1.8]];
const OBS_E = [[2014.65,393.5,1.2],[2014.68,395.5,2.3],[2014.70,396.8,1.5],
[2015.23,397.2,1.0],[2015.25,401.2,1.3],[2015.27,402.5,1.1],[2015.29,400.8,1.4],[2015.31,403.6,1.2],[2015.32,406.7,1.6],[2015.34,404.1,1.1],[2015.36,402.0,1.3],[2015.38,400.6,1.0],[2015.40,399.2,1.2],[2015.42,398.0,1.1],[2015.44,396.9,1.4],[2015.46,397.8,1.0],[2015.48,395.5,1.2],[2015.50,394.3,1.1],[2015.52,393.4,1.3],[2015.54,392.5,1.0],[2015.56,391.4,1.4],[2015.58,392.8,1.2],[2015.60,390.8,1.1],[2015.62,393.6,1.3],[2015.64,395.1,1.0],[2015.66,396.6,1.2],[2015.68,397.8,1.1],[2015.70,399.8,1.0],[2015.73,398.7,1.2],[2015.76,399.5,1.0],
[2016.17,402.2,1.2],[2016.19,403.4,1.0],[2016.21,402.8,1.4],[2016.23,404.5,1.1],[2016.25,405.8,1.3],[2016.27,407.2,1.2],[2016.29,406.0,1.0],[2016.31,409.7,1.6],[2016.33,406.5,1.2],[2016.35,404.4,1.1],[2016.37,402.9,1.3],[2016.39,401.6,1.0],[2016.41,400.8,1.2],[2016.43,399.5,1.1],[2016.45,398.6,1.3],[2016.47,397.4,1.0],[2016.49,396.3,1.2],[2016.51,395.5,1.1],[2016.53,394.6,1.4],[2016.55,393.8,1.0],[2016.57,395.9,1.2],[2016.59,394.8,1.1],[2016.62,397.0,1.3],[2016.65,398.6,1.0],[2016.68,399.4,1.2],[2016.71,398.5,1.1],[2016.75,399.2,1.0],[2016.80,393.5,1.2],
[2017.20,411.3,1.0],[2017.24,406.0,1.3],[2017.26,408.5,1.1],[2017.28,407.2,1.4],[2017.30,409.6,1.2],[2017.32,408.3,1.0],[2017.34,406.8,1.3],[2017.36,405.5,1.1],[2017.38,389.5,4.2],[2017.39,404.3,1.2],[2017.41,405.0,1.0],[2017.43,403.1,1.3],[2017.45,402.2,1.1],[2017.47,401.4,1.2],[2017.49,400.3,1.0],[2017.51,399.6,1.3],[2017.53,398.4,1.1],[2017.55,397.5,1.2],[2017.57,398.9,1.0],[2017.59,397.0,1.4],[2017.62,399.2,1.1],[2017.66,408.2,1.3],
[2018.20,410.0,1.2],[2018.22,413.2,1.1],[2018.24,411.5,1.3],[2018.26,414.0,1.0],[2018.28,412.4,1.4],[2018.30,410.8,1.2],[2018.32,409.6,1.1],[2018.34,411.8,1.3],[2018.36,408.5,1.0],[2018.38,407.2,1.2],[2018.40,406.4,1.1],[2018.42,405.5,1.3],[2018.44,404.6,1.0],[2018.46,403.8,1.2],[2018.48,402.9,1.1],[2018.50,402.0,1.3],[2018.52,401.2,1.0],[2018.54,397.5,1.2],[2018.56,400.1,1.1],[2018.58,401.6,1.0],[2018.60,400.6,1.2],[2018.63,402.8,1.1],[2018.66,404.2,1.0],[2018.69,405.4,1.2],[2018.72,406.0,1.0],
[2019.20,416.5,1.5],[2019.22,413.8,1.2],[2019.24,412.5,1.0],[2019.26,414.6,1.3],[2019.28,411.5,1.1],[2019.30,407.2,1.0],[2019.32,413.0,1.4],[2019.34,410.6,1.2],[2019.36,409.5,1.0],[2019.38,408.7,1.3],[2019.40,409.8,1.1],[2019.42,407.4,1.0],[2019.44,406.3,1.2],[2019.46,405.5,1.1],[2019.48,404.8,1.3],[2019.50,404.0,1.0],[2019.52,403.2,1.2],[2019.55,402.4,1.1],[2019.58,401.0,1.0],[2019.62,401.2,1.1],
[2014.66,394.6,2.0],[2014.67,392.2,1.8],[2014.69,397.6,1.9],
[2015.24,399.4,1.9],[2015.26,403.4,2.1],[2015.28,400.2,1.8],[2015.30,404.8,2.2],[2015.32,401.6,1.9],[2015.33,405.0,2.0],[2015.35,400.8,1.8],[2015.37,403.6,2.1],[2015.39,398.2,1.9],[2015.41,401.2,2.0],[2015.43,396.0,1.8],[2015.45,399.6,2.1],[2015.47,394.8,1.9],[2015.49,397.2,2.0],[2015.51,392.4,1.8],[2015.53,395.4,2.1],[2015.55,390.8,1.9],[2015.57,393.6,2.0],[2015.59,391.8,1.8],[2015.61,395.6,2.1],[2015.63,392.4,1.9],[2015.65,398.4,2.0],[2015.67,395.4,1.8],[2015.69,400.4,2.1],[2015.71,397.4,1.9],[2015.74,401.0,1.8],[2015.77,398.0,1.7],
[2016.18,404.4,1.9],[2016.20,401.2,2.1],[2016.22,405.6,1.8],[2016.24,402.6,2.2],[2016.26,407.8,1.9],[2016.28,404.2,2.0],[2016.30,408.4,1.8],[2016.32,404.6,2.1],[2016.34,407.0,1.9],[2016.36,402.2,2.0],[2016.38,404.6,1.8],[2016.40,399.6,2.1],[2016.42,402.4,1.9],[2016.44,397.4,2.0],[2016.46,400.0,1.8],[2016.48,395.0,2.1],[2016.50,398.0,1.9],[2016.52,393.2,2.0],[2016.54,396.4,1.8],[2016.56,392.6,2.1],[2016.58,396.6,1.9],[2016.60,393.4,2.0],[2016.63,398.8,1.8],[2016.66,396.6,1.9],[2016.70,400.6,1.8],[2016.73,397.6,1.7],
[2017.25,408.0,1.9],[2017.27,405.2,2.1],[2017.29,410.4,1.8],[2017.31,406.6,2.2],[2017.33,409.8,1.9],[2017.35,404.6,2.0],[2017.37,407.0,1.8],[2017.40,402.6,2.1],[2017.42,406.2,1.9],[2017.44,401.2,2.0],[2017.46,403.8,1.8],[2017.48,399.6,2.1],[2017.50,402.0,1.9],[2017.52,397.6,2.0],[2017.54,400.0,1.8],[2017.56,396.4,2.1],[2017.58,399.8,1.9],[2017.60,396.0,2.0],[2017.64,400.6,1.8],
[2018.21,412.0,1.9],[2018.23,409.6,2.1],[2018.25,414.6,1.8],[2018.27,410.8,2.2],[2018.29,413.8,1.9],[2018.31,409.4,2.0],[2018.33,412.2,1.8],[2018.35,407.4,2.1],[2018.37,410.0,1.9],[2018.39,405.8,2.0],[2018.41,408.0,1.8],[2018.43,403.6,2.1],[2018.45,406.0,1.9],[2018.47,402.0,2.0],[2018.49,404.6,1.8],[2018.51,400.2,2.1],[2018.53,402.8,1.9],[2018.55,399.0,2.0],[2018.57,401.4,1.8],[2018.59,399.4,2.1],[2018.62,401.6,1.9],[2018.65,405.0,1.8],[2018.68,403.0,2.0],[2018.71,407.0,1.7],
[2019.21,412.0,1.9],[2019.23,415.8,2.1],[2019.25,411.0,1.8],[2019.27,413.4,2.2],[2019.29,410.2,1.9],[2019.31,414.2,2.0],[2019.33,409.0,1.8],[2019.35,411.6,2.1],[2019.37,407.4,1.9],[2019.39,410.6,2.0],[2019.41,406.0,1.8],[2019.43,408.4,2.1],[2019.45,404.6,1.9],[2019.47,407.0,2.0],[2019.49,403.2,1.8],[2019.51,405.4,2.1],[2019.53,401.8,1.9],[2019.56,403.6,2.0],[2019.60,402.6,1.8]];
const OBS_F = [[2014.70,390.5,1.5],
[2015.22,404.5,1.2],[2015.24,405.6,1.0],[2015.26,401.5,1.3],[2015.28,403.8,1.1],[2015.30,405.2,1.4],[2015.32,402.7,1.2],[2015.34,388.7,1.0],[2015.35,406.0,1.8],[2015.37,400.1,1.1],[2015.39,398.9,1.3],[2015.41,397.6,1.0],[2015.43,398.4,1.2],[2015.45,396.7,1.1],[2015.47,395.5,1.4],[2015.49,397.0,1.0],[2015.51,394.1,1.2],[2015.53,393.0,1.1],[2015.55,392.2,1.3],[2015.57,391.5,1.0],[2015.59,393.8,1.2],[2015.61,392.7,1.1],[2015.63,394.6,1.3],[2015.65,395.8,1.0],[2015.67,397.2,1.2],[2015.70,396.0,1.1],[2015.73,398.0,1.0],[2015.76,390.2,1.3],
[2016.24,403.5,1.2],[2016.26,405.8,1.0],[2016.28,404.2,1.3],[2016.30,407.6,1.5],[2016.32,406.1,1.1],[2016.34,402.8,1.2],[2016.36,405.0,1.0],[2016.38,403.6,1.3],[2016.40,401.9,1.1],[2016.42,400.6,1.2],[2016.44,399.5,1.0],[2016.46,398.3,1.3],[2016.48,397.4,1.1],[2016.50,396.5,1.2],[2016.52,395.6,1.0],[2016.54,394.5,1.3],[2016.56,393.8,1.1],[2016.58,395.2,1.2],[2016.60,396.8,1.0],[2016.63,398.1,1.3],[2016.66,399.6,1.1],[2016.69,401.2,1.0],[2016.72,400.4,1.2],[2016.75,401.8,1.0],[2016.79,400.9,1.1],[2016.83,401.5,0.9],
[2017.18,409.8,1.2],[2017.20,408.5,1.0],[2017.22,407.3,1.3],[2017.24,409.0,1.1],[2017.26,407.8,1.4],[2017.28,406.4,1.0],[2017.30,397.5,1.2],[2017.31,408.2,1.1],[2017.33,405.2,1.3],[2017.35,407.0,1.0],[2017.37,406.1,1.2],[2017.39,404.5,1.1],[2017.41,405.3,1.0],[2017.43,403.4,1.3],[2017.45,401.6,1.1],[2017.47,400.8,1.2],[2017.49,399.5,1.0],[2017.51,398.5,1.3],[2017.53,397.2,1.1],[2017.55,395.8,1.0],[2017.57,396.6,1.2],[2017.60,398.6,1.1],
[2018.22,410.8,1.2],[2018.24,412.6,1.1],[2018.25,414.2,1.0],[2018.27,415.0,1.3],[2018.28,400.0,1.2],[2018.29,408.2,1.4],[2018.30,413.1,1.1],[2018.32,411.4,1.0],[2018.34,409.6,1.3],[2018.36,411.0,1.2],[2018.38,409.0,1.1],[2018.40,407.7,1.4],[2018.42,406.5,1.0],[2018.44,405.3,1.2],[2018.46,404.6,1.1],[2018.48,403.7,1.3],[2018.50,402.3,1.0],[2018.52,401.0,1.2],[2018.54,400.1,1.1],[2018.56,402.8,1.0],[2018.58,401.6,1.2],[2018.60,404.0,1.1],[2018.63,399.8,1.0],[2018.66,398.6,1.2],[2018.70,399.5,1.1],[2018.73,398.5,1.0],
[2019.20,413.2,1.3],[2019.22,411.6,1.1],[2019.24,412.8,1.0],[2019.25,406.5,1.2],[2019.27,410.5,1.3],[2019.29,414.0,1.1],[2019.30,404.0,1.0],[2019.32,415.2,1.4],[2019.34,412.3,1.2],[2019.36,417.0,1.0],[2019.38,411.0,1.1],[2019.40,409.7,1.3],[2019.42,408.6,1.0],[2019.44,407.5,1.2],[2019.46,406.3,1.1],[2019.48,405.4,1.0],[2019.50,404.6,1.2],[2019.52,403.5,1.1],[2019.55,402.4,1.0],[2019.58,401.8,1.2],[2019.62,402.2,1.1],[2019.65,403.0,1.0],
[2015.23,402.6,1.9],[2015.25,406.4,2.1],[2015.27,403.0,1.8],[2015.29,406.8,2.2],[2015.31,401.4,1.9],[2015.33,404.6,2.0],[2015.36,399.2,1.8],[2015.38,402.4,2.1],[2015.40,396.8,1.9],[2015.42,400.2,2.0],[2015.44,395.4,1.8],[2015.46,398.6,2.1],[2015.48,393.8,1.9],[2015.50,396.4,2.0],[2015.52,392.0,1.8],[2015.54,394.6,2.1],[2015.56,390.6,1.9],[2015.58,393.0,2.0],[2015.60,391.0,1.8],[2015.62,395.8,2.1],[2015.64,392.8,1.9],[2015.66,398.4,2.0],[2015.68,394.6,1.8],[2015.71,399.4,1.9],[2015.74,392.4,1.8],[2015.78,397.0,1.7],
[2016.25,402.4,1.9],[2016.27,406.8,2.1],[2016.29,403.0,1.8],[2016.31,408.4,2.2],[2016.33,404.2,1.9],[2016.35,406.6,2.0],[2016.37,401.6,1.8],[2016.39,404.6,2.1],[2016.41,399.4,1.9],[2016.43,402.2,2.0],[2016.45,397.6,1.8],[2016.47,400.4,2.1],[2016.49,395.4,1.9],[2016.51,398.2,2.0],[2016.53,393.4,1.8],[2016.55,396.4,2.1],[2016.57,393.0,1.9],[2016.59,396.8,2.0],[2016.61,395.0,1.8],[2016.64,399.8,2.1],[2016.67,397.6,1.9],[2016.70,402.6,1.8],[2016.74,399.6,2.0],[2016.77,402.8,1.7],[2016.81,399.6,1.8],
[2017.19,407.4,1.9],[2017.21,409.8,2.1],[2017.23,405.8,1.8],[2017.25,410.2,2.2],[2017.27,406.0,1.9],[2017.29,409.0,2.0],[2017.32,404.0,1.8],[2017.34,408.4,2.1],[2017.36,404.0,1.9],[2017.38,407.6,2.0],[2017.40,402.8,1.8],[2017.42,405.4,2.1],[2017.44,400.4,1.9],[2017.46,403.0,2.0],[2017.48,398.4,1.8],[2017.50,401.0,2.1],[2017.52,396.4,1.9],[2017.54,398.6,2.0],[2017.56,395.0,1.8],[2017.58,397.6,1.9],
[2018.23,409.4,1.9],[2018.26,412.6,2.1],[2018.29,410.4,1.8],[2018.31,414.4,2.2],[2018.33,409.0,1.9],[2018.35,412.4,2.0],[2018.37,407.6,1.8],[2018.39,410.6,2.1],[2018.41,405.2,1.9],[2018.43,408.4,2.0],[2018.45,403.2,1.8],[2018.47,406.0,2.1],[2018.49,401.6,1.9],[2018.51,404.2,2.0],[2018.53,399.4,1.8],[2018.55,401.6,2.1],[2018.57,399.0,1.9],[2018.59,403.2,2.0],[2018.61,400.4,1.8],[2018.64,402.4,2.1],[2018.68,397.6,1.9],[2018.72,400.6,1.8],
[2019.21,414.4,1.9],[2019.23,410.6,2.1],[2019.26,413.6,1.8],[2019.28,411.4,2.2],[2019.31,413.2,1.9],[2019.33,410.4,2.0],[2019.35,413.8,1.8],[2019.37,409.2,2.1],[2019.39,411.6,1.9],[2019.41,407.4,2.0],[2019.43,409.8,1.8],[2019.45,405.4,2.1],[2019.47,407.8,1.9],[2019.49,404.0,2.0],[2019.51,405.8,1.8],[2019.53,402.4,2.1],[2019.56,404.2,1.9],[2019.60,401.2,1.8],[2019.63,403.8,1.7]];

// Fit residual  [decimal year, ppm]
const RES_A = [[2014.64,3.0],[2014.65,0.5],[2014.67,-1.2],[2014.68,1.8],[2014.70,-2.5],[2014.72,0.2],[2014.73,-3.0],[2014.75,1.0],[2014.77,-1.8],[2014.79,-0.5],
[2015.16,0.5],[2015.18,1.2],[2015.20,-0.3],[2015.22,0.9],[2015.24,-1.5],[2015.26,1.6],[2015.28,-0.8],[2015.30,2.1],[2015.32,-2.2],[2015.34,0.4],[2015.36,3.0],[2015.38,-3.5],[2015.40,10.0],[2015.41,1.8],[2015.43,-1.0],[2015.45,2.6],[2015.47,-2.8],[2015.49,0.7],[2015.51,-1.9],[2015.53,3.8],[2015.55,-0.6],[2015.57,1.4],[2015.58,-4.0],[2015.60,2.2],[2015.62,-1.3],[2015.64,0.3],[2015.66,4.8],[2015.68,-2.4],[2015.70,1.5],[2015.72,5.3],[2015.74,-0.9],[2015.77,1.9],[2015.80,-1.4],[2015.83,-3.6],
[2016.12,0.8],[2016.15,-0.5],[2016.18,1.3],[2016.20,-1.1],[2016.22,2.0],[2016.24,0.2],[2016.26,-1.8],[2016.28,1.6],[2016.30,-0.4],[2016.31,5.5],[2016.33,0.9],[2016.35,-1.5],[2016.37,2.4],[2016.40,-0.7],[2016.42,1.1],[2016.45,-4.0],[2016.47,0.5],[2016.50,-1.2],[2016.52,1.8],[2016.54,-0.2],[2016.56,1.0],[2016.58,-2.0],[2016.60,0.6],[2016.62,-4.2],[2016.64,1.4],[2016.67,-0.9],[2016.70,0.3],[2016.73,1.2],[2016.76,-0.6],[2016.79,0.1],
[2017.19,7.8],[2017.24,0.6],[2017.26,-0.8],[2017.28,1.7],[2017.30,-1.6],[2017.32,2.4],[2017.34,-0.2],[2017.36,1.0],[2017.38,-2.1],[2017.40,3.5],[2017.42,0.4],[2017.44,-1.3],[2017.46,1.9],[2017.48,-0.6],[2017.50,0.8],[2017.52,-2.5],[2017.54,1.2],[2017.56,-0.9],[2017.58,-3.0],[2017.60,1.5],[2017.63,-1.8],[2017.66,0.3],[2017.70,-0.4],[2017.74,0.7],[2017.77,-0.5],
[2018.27,0.9],[2018.29,2.1],[2018.30,-0.5],[2018.32,2.7],[2018.33,-1.2],[2018.35,1.4],[2018.37,-0.3],[2018.39,2.9],[2018.41,-1.8],[2018.43,0.6],[2018.45,-2.4],[2018.47,1.1],[2018.49,-0.9],[2018.51,0.4],[2018.53,-3.8],[2018.55,1.8],[2018.57,-1.4],[2018.59,0.2],[2018.61,-2.7],[2018.63,1.0],[2018.65,-0.6],[2018.67,-1.9],[2018.70,0.5],[2018.72,-1.0],[2018.76,-7.0],
[2019.20,1.5],[2019.22,-0.4],[2019.24,2.2],[2019.26,0.6],[2019.27,-9.0],[2019.28,1.8],[2019.30,-1.1],[2019.32,0.3],[2019.34,4.5],[2019.36,-0.8],[2019.38,2.7],[2019.40,-1.6],[2019.42,0.9],[2019.44,-2.5],[2019.46,1.3],[2019.48,-0.2],[2019.50,0.7],[2019.52,-3.2],[2019.54,1.1],[2019.56,-0.9],[2019.58,0.4],[2019.62,-1.7],[2019.66,0.2],[2019.70,-0.6],
[2014.66,1.2],[2014.69,-0.4],[2014.71,2.1],[2014.74,-1.0],[2014.76,0.8],[2014.78,-2.2],
[2015.17,-0.8],[2015.19,2.0],[2015.21,-1.6],[2015.23,0.2],[2015.25,2.4],[2015.27,-0.9],[2015.29,0.6],[2015.31,-1.2],[2015.33,1.5],[2015.35,-0.4],[2015.37,0.9],[2015.39,-1.7],[2015.42,0.3],[2015.44,1.6],[2015.46,-0.5],[2015.48,2.1],[2015.50,-1.0],[2015.52,0.8],[2015.54,-2.0],[2015.56,0.5],[2015.59,-0.7],[2015.61,1.3],[2015.63,-1.5],[2015.65,2.2],[2015.67,0.1],[2015.69,-1.1],[2015.71,0.9],[2015.73,-0.3],[2015.76,2.6],[2015.79,-0.5],
[2016.13,-0.3],[2016.16,1.4],[2016.19,-0.8],[2016.21,0.6],[2016.23,-1.5],[2016.25,1.9],[2016.27,0.4],[2016.29,-0.9],[2016.32,1.2],[2016.34,-0.2],[2016.36,0.8],[2016.38,-1.3],[2016.39,2.0],[2016.41,0.1],[2016.43,-1.8],[2016.46,0.7],[2016.48,-0.6],[2016.49,1.5],[2016.51,-1.0],[2016.53,0.3],[2016.55,2.3],[2016.57,-0.4],[2016.59,1.1],[2016.61,-1.4],[2016.63,0.2],[2016.65,-0.8],[2016.68,1.6],[2016.71,-0.2],[2016.74,0.9],[2016.77,-1.1],
[2017.23,-0.7],[2017.25,1.3],[2017.27,0.1],[2017.29,-1.2],[2017.31,0.9],[2017.33,-0.4],[2017.35,2.0],[2017.37,0.5],[2017.39,-1.5],[2017.41,1.1],[2017.43,-0.2],[2017.45,2.4],[2017.47,-1.0],[2017.49,0.4],[2017.51,1.5],[2017.53,-0.8],[2017.55,0.6],[2017.57,-1.9],[2017.59,0.2],[2017.61,-0.6],[2017.64,1.0],[2017.68,-1.2],[2017.72,0.5],
[2018.28,-0.8],[2018.29,1.2],[2018.31,0.3],[2018.32,-1.9],[2018.34,0.8],[2018.36,-0.4],[2018.38,1.6],[2018.40,-1.0],[2018.42,0.2],[2018.44,1.9],[2018.46,-0.6],[2018.48,0.7],[2018.50,-1.6],[2018.52,1.3],[2018.54,-0.2],[2018.56,0.9],[2018.58,-1.2],[2018.60,0.5],[2018.62,-0.9],[2018.64,1.5],[2018.66,0.2],[2018.68,-1.4],[2018.71,0.6],
[2019.21,-0.8],[2019.23,0.9],[2019.25,-1.5],[2019.27,1.4],[2019.29,0.0],[2019.31,-0.7],[2019.33,1.9],[2019.35,0.4],[2019.37,-1.2],[2019.39,0.8],[2019.41,-0.3],[2019.43,1.6],[2019.45,-0.9],[2019.47,0.5],[2019.49,-1.7],[2019.51,1.0],[2019.53,-0.4],[2019.55,2.0],[2019.57,-1.1],[2019.60,0.6],[2019.64,-0.2],[2019.68,0.9]];
const RES_B = [[2014.64,-1.5],[2014.65,0.8],[2014.67,3.3],[2014.68,-0.6],[2014.70,1.7],[2014.72,-1.9],[2014.74,0.3],[2014.76,2.2],[2014.78,-1.1],[2014.80,0.6],
[2015.16,1.8],[2015.18,-1.0],[2015.21,0.6],[2015.23,-2.2],[2015.25,1.3],[2015.27,-0.4],[2015.29,2.5],[2015.31,-1.6],[2015.33,0.9],[2015.35,-3.1],[2015.37,1.5],[2015.39,-0.8],[2015.41,3.6],[2015.43,-2.0],[2015.45,0.2],[2015.47,-4.8],[2015.49,1.1],[2015.51,-1.5],[2015.53,2.8],[2015.55,-0.3],[2015.57,4.4],[2015.59,-2.6],[2015.61,0.7],[2015.63,-1.2],[2015.65,1.9],[2015.67,-3.4],[2015.69,0.4],[2015.72,2.1],[2015.75,-0.9],[2015.78,1.0],[2015.81,-0.2],
[2016.19,1.2],[2016.20,-4.0],[2016.22,0.6],[2016.24,-6.5],[2016.26,1.5],[2016.28,-0.5],[2016.30,2.3],[2016.32,-1.4],[2016.34,0.8],[2016.36,-2.6],[2016.38,4.7],[2016.40,-0.2],[2016.42,1.8],[2016.44,-1.0],[2016.46,3.1],[2016.48,-1.8],[2016.50,0.4],[2016.52,-3.0],[2016.54,1.3],[2016.56,-0.7],[2016.58,5.3],[2016.60,-1.6],[2016.63,0.9],[2016.66,-0.4],[2016.69,1.4],[2016.72,-0.9],[2016.76,-4.3],
[2017.17,0.9],[2017.19,-1.2],[2017.21,2.2],[2017.23,-0.5],[2017.25,1.6],[2017.27,-2.1],[2017.29,3.0],[2017.31,0.3],[2017.33,5.7],[2017.35,-1.0],[2017.37,2.4],[2017.39,-0.3],[2017.41,1.2],[2017.43,-2.6],[2017.45,3.6],[2017.47,0.6],[2017.49,-1.5],[2017.51,1.9],[2017.53,-0.8],[2017.55,2.7],[2017.57,-2.9],[2017.59,0.5],[2017.62,-1.8],
[2018.24,-3.8],[2018.26,0.4],[2018.28,1.8],[2018.29,-1.5],[2018.31,2.6],[2018.33,-0.6],[2018.35,0.9],[2018.37,-2.2],[2018.39,1.3],[2018.41,-0.9],[2018.43,2.1],[2018.45,-1.7],[2018.47,0.2],[2018.49,-3.0],[2018.51,1.0],[2018.53,-0.4],[2018.55,1.6],[2018.57,-2.4],[2018.59,0.7],[2018.61,-1.2],[2018.64,0.3],[2018.67,-0.8],[2018.70,1.1],[2018.73,-1.5],[2018.76,0.5],[2018.79,-0.6],
[2019.23,6.8],[2019.24,2.0],[2019.25,-1.3],[2019.27,0.5],[2019.29,-2.0],[2019.31,1.4],[2019.33,-0.7],[2019.35,0.2],[2019.37,-1.6],[2019.39,1.0],[2019.41,-0.4],[2019.43,1.9],[2019.45,-1.1],[2019.47,0.8],[2019.49,-1.8],[2019.51,1.5],[2019.53,-0.2],[2019.56,1.2],[2019.59,-0.9],[2019.62,0.6],[2019.65,1.3],[2019.68,0.1],
[2014.66,-0.4],[2014.69,1.0],[2014.71,-1.0],[2014.73,2.0],[2014.75,-0.2],[2014.77,1.1],[2014.79,-2.0],
[2015.17,-0.5],[2015.19,1.0],[2015.22,-1.1],[2015.24,0.4],[2015.26,2.0],[2015.28,-0.9],[2015.30,0.7],[2015.32,-1.8],[2015.34,1.3],[2015.36,-0.2],[2015.38,0.5],[2015.40,-1.4],[2015.42,1.6],[2015.44,-0.6],[2015.46,2.2],[2015.48,-1.0],[2015.50,0.3],[2015.52,-2.1],[2015.54,0.9],[2015.56,-0.4],[2015.58,1.5],[2015.60,-1.2],[2015.62,0.1],[2015.64,2.0],[2015.66,-0.8],[2015.68,0.6],[2015.70,-1.6],[2015.73,0.9],[2015.76,-0.5],[2015.79,1.2],
[2016.21,-0.6],[2016.23,1.0],[2016.25,-1.9],[2016.27,0.5],[2016.29,-0.3],[2016.31,1.6],[2016.33,-1.1],[2016.35,0.2],[2016.37,2.0],[2016.39,-0.8],[2016.41,0.7],[2016.43,-1.5],[2016.45,1.2],[2016.47,-0.2],[2016.49,0.9],[2016.51,-1.3],[2016.53,0.4],[2016.55,2.3],[2016.57,-0.6],[2016.59,1.0],[2016.61,-1.8],[2016.64,0.3],[2016.67,-0.7],[2016.70,1.4],[2016.73,0.0],
[2017.18,-0.4],[2017.20,1.3],[2017.22,-1.6],[2017.24,0.8],[2017.26,-0.1],[2017.28,1.9],[2017.30,-0.9],[2017.32,0.5],[2017.34,2.1],[2017.36,-0.6],[2017.38,1.0],[2017.40,-1.7],[2017.42,0.3],[2017.44,1.6],[2017.46,-0.4],[2017.48,0.9],[2017.50,-1.3],[2017.52,0.2],[2017.54,1.4],[2017.56,-0.8],[2017.58,0.6],[2017.60,-1.0],
[2018.25,0.6],[2018.27,-1.0],[2018.28,0.2],[2018.30,1.4],[2018.32,-0.8],[2018.34,1.0],[2018.36,-1.6],[2018.38,0.4],[2018.40,-0.3],[2018.42,1.6],[2018.44,-1.1],[2018.46,0.5],[2018.48,-2.0],[2018.50,0.8],[2018.52,-0.6],[2018.54,1.2],[2018.56,-1.4],[2018.58,0.0],[2018.60,1.0],[2018.62,-0.7],[2018.65,0.6],[2018.68,-1.3],[2018.71,0.3],[2018.74,-0.9],[2018.77,1.2],
[2019.24,-0.6],[2019.26,1.1],[2019.28,-0.4],[2019.30,0.8],[2019.32,-1.4],[2019.34,1.6],[2019.36,0.1],[2019.38,-0.9],[2019.40,1.2],[2019.42,-0.3],[2019.44,0.6],[2019.46,-1.5],[2019.48,0.9],[2019.50,-0.6],[2019.52,1.3],[2019.54,-0.9],[2019.57,0.4],[2019.60,1.6],[2019.63,-0.3],[2019.66,0.8]];
const RES_C = [[2014.62,1.2],[2014.63,-0.8],[2014.65,0.6],[2014.67,-1.8],[2014.69,1.7],[2014.71,0.1],[2014.73,-1.2],[2014.75,0.9],[2014.77,-0.5],
[2015.17,1.5],[2015.19,-0.7],[2015.21,0.9],[2015.23,-1.8],[2015.25,1.2],[2015.27,-0.3],[2015.29,2.4],[2015.31,-1.2],[2015.33,4.3],[2015.35,0.5],[2015.37,-2.1],[2015.39,1.6],[2015.41,-0.6],[2015.43,2.9],[2015.45,-3.2],[2015.47,0.4],[2015.49,-1.5],[2015.51,3.4],[2015.53,-0.9],[2015.55,1.1],[2015.57,-4.4],[2015.59,0.2],[2015.61,-2.4],[2015.63,1.8],[2015.65,-1.0],[2015.67,0.7],[2015.70,-1.6],[2015.73,2.2],[2015.76,-0.4],[2015.79,0.9],
[2016.15,0.9],[2016.17,-1.4],[2016.19,1.6],[2016.21,-0.3],[2016.23,2.3],[2016.25,-1.8],[2016.27,0.6],[2016.29,5.3],[2016.30,1.9],[2016.32,-0.8],[2016.34,2.7],[2016.36,-2.5],[2016.38,0.4],[2016.40,-1.1],[2016.42,1.5],[2016.44,-3.0],[2016.46,0.2],[2016.48,-1.6],[2016.50,2.2],[2016.52,-0.7],[2016.54,1.0],[2016.56,-2.0],[2016.58,0.5],[2016.61,-1.2],[2016.64,0.8],[2016.67,-0.3],[2016.70,0.4],
[2017.18,0.7],[2017.20,-0.5],[2017.22,1.4],[2017.24,-1.1],[2017.26,2.0],[2017.28,0.3],[2017.30,-2.8],[2017.32,1.7],[2017.34,-0.2],[2017.36,2.6],[2017.38,-0.9],[2017.40,3.3],[2017.42,0.1],[2017.44,-1.4],[2017.46,1.9],[2017.48,-0.6],[2017.50,2.4],[2017.52,-1.7],[2017.54,0.9],[2017.56,3.0],[2017.58,-0.4],[2017.61,1.2],[2017.64,0.0],
[2018.24,-1.6],[2018.26,0.5],[2018.27,-3.0],[2018.28,2.2],[2018.30,-0.8],[2018.31,1.3],[2018.33,-2.0],[2018.35,0.2],[2018.37,-1.3],[2018.39,1.7],[2018.41,-0.5],[2018.43,0.9],[2018.45,-2.6],[2018.47,-4.8],[2018.49,0.4],[2018.51,-1.1],[2018.53,1.5],[2018.55,-0.3],[2018.57,-2.2],[2018.59,0.8],[2018.61,-1.5],[2018.64,0.1],[2018.67,-0.9],[2018.70,1.2],[2018.73,-0.2],
[2019.22,0.4],[2019.24,-1.2],[2019.25,1.5],[2019.27,-0.3],[2019.28,2.2],[2019.30,0.8],[2019.31,-1.6],[2019.33,1.1],[2019.35,-0.6],[2019.37,2.4],[2019.39,0.2],[2019.41,-1.9],[2019.43,0.9],[2019.45,-0.8],[2019.47,1.7],[2019.49,-0.2],[2019.51,1.0],[2019.54,-1.3],[2019.57,0.5],[2019.60,-0.5],[2019.64,1.3],[2019.68,0.3],
[2014.64,0.2],[2014.66,-0.9],[2014.68,0.9],[2014.70,-0.4],[2014.72,1.4],[2014.74,-1.6],[2014.76,0.4],[2014.78,1.0],
[2015.18,-0.4],[2015.20,1.1],[2015.22,-1.3],[2015.24,0.6],[2015.26,-0.2],[2015.28,1.7],[2015.31,0.4],[2015.33,-0.9],[2015.35,1.4],[2015.37,0.2],[2015.39,-1.1],[2015.41,0.9],[2015.43,-0.5],[2015.45,1.8],[2015.47,-1.4],[2015.49,0.6],[2015.51,-0.2],[2015.53,1.5],[2015.55,-0.8],[2015.57,0.3],[2015.59,-1.7],[2015.61,1.0],[2015.63,-0.3],[2015.65,2.1],[2015.67,-0.6],[2015.69,0.8],[2015.72,-1.2],[2015.75,0.4],[2015.78,-0.7],
[2016.16,0.3],[2016.18,-0.9],[2016.20,1.2],[2016.22,-0.5],[2016.24,0.7],[2016.26,-1.3],[2016.28,1.9],[2016.31,0.0],[2016.33,-1.0],[2016.35,1.1],[2016.37,-0.4],[2016.39,0.9],[2016.41,-1.7],[2016.43,0.5],[2016.45,1.4],[2016.47,-0.6],[2016.49,0.2],[2016.51,-1.2],[2016.53,1.6],[2016.55,-0.3],[2016.57,0.8],[2016.59,-1.4],[2016.62,0.4],[2016.65,-0.7],[2016.68,1.0],
[2017.19,1.0],[2017.21,-0.6],[2017.23,0.4],[2017.25,1.7],[2017.27,-0.3],[2017.29,0.9],[2017.31,-1.4],[2017.33,0.6],[2017.35,1.5],[2017.37,-0.5],[2017.39,1.2],[2017.41,-0.1],[2017.43,2.0],[2017.45,-0.8],[2017.47,0.5],[2017.49,1.3],[2017.51,-0.4],[2017.53,0.7],[2017.55,1.8],[2017.57,-0.9],[2017.59,0.3],[2017.62,0.9],
[2018.25,-0.4],[2018.27,0.9],[2018.29,-1.2],[2018.30,0.3],[2018.32,-0.6],[2018.34,1.0],[2018.36,-1.8],[2018.38,0.1],[2018.40,-0.9],[2018.42,1.3],[2018.44,-0.2],[2018.46,-1.4],[2018.48,0.6],[2018.50,-0.7],[2018.52,0.9],[2018.54,-1.6],[2018.56,0.2],[2018.58,-0.5],[2018.60,1.1],[2018.62,-1.0],[2018.65,0.5],[2018.68,-0.3],[2018.71,0.7],
[2019.23,1.0],[2019.25,-0.5],[2019.26,0.6],[2019.28,-1.3],[2019.29,1.8],[2019.31,0.3],[2019.32,-0.8],[2019.34,1.4],[2019.36,-0.2],[2019.38,0.9],[2019.40,-1.2],[2019.42,0.4],[2019.44,1.9],[2019.46,-0.4],[2019.48,0.7],[2019.50,-1.0],[2019.52,1.2],[2019.55,0.0],[2019.58,-0.9],[2019.62,0.8],[2019.66,-0.4]];
const RES_D = [[2014.66,-1.0],[2014.68,-2.5],[2014.70,-0.2],[2014.72,-1.6],[2014.74,-0.6],
[2015.20,-0.5],[2015.22,1.2],[2015.24,-1.5],[2015.26,0.7],[2015.28,2.0],[2015.30,-0.9],[2015.32,1.5],[2015.34,-2.2],[2015.36,0.3],[2015.38,-1.2],[2015.40,2.6],[2015.42,-0.4],[2015.44,1.0],[2015.46,-3.4],[2015.48,0.6],[2015.50,-1.8],[2015.52,-3.9],[2015.54,1.3],[2015.56,-0.7],[2015.58,-2.6],[2015.60,0.9],[2015.62,-1.4],[2015.64,0.2],[2015.66,3.8],[2015.69,-1.0],[2015.72,4.2],[2015.75,-0.3],[2015.77,-2.0],
[2016.19,1.4],[2016.21,0.2],[2016.23,3.0],[2016.25,-0.8],[2016.27,5.5],[2016.29,2.2],[2016.31,0.6],[2016.33,-1.2],[2016.35,1.8],[2016.37,0.1],[2016.39,3.6],[2016.41,-0.5],[2016.43,1.0],[2016.45,-1.4],[2016.47,2.5],[2016.49,0.4],[2016.51,-0.9],[2016.53,1.6],[2016.55,0.0],[2016.57,2.8],[2016.59,-1.1],[2016.62,0.8],[2016.65,-0.4],[2016.68,1.9],[2016.72,0.3],[2016.75,-0.7],[2016.78,0.9],
[2017.18,-4.5],[2017.21,5.8],[2017.23,1.2],[2017.25,3.1],[2017.26,-0.6],[2017.28,1.9],[2017.30,0.4],[2017.32,-1.5],[2017.34,2.7],[2017.36,-0.2],[2017.38,1.1],[2017.40,4.3],[2017.42,-1.0],[2017.44,0.6],[2017.46,-2.2],[2017.48,1.5],[2017.50,-0.7],[2017.52,0.9],[2017.54,-1.8],[2017.56,2.4],[2017.58,-0.4],[2017.62,0.3],[2017.67,1.3],[2017.72,-0.9],[2017.75,0.6],
[2018.22,0.5],[2018.24,1.8],[2018.26,-1.0],[2018.28,0.9],[2018.30,-0.3],[2018.32,1.6],[2018.34,-1.7],[2018.36,0.2],[2018.38,2.3],[2018.40,-0.8],[2018.42,1.1],[2018.44,-10.0],[2018.46,-0.5],[2018.48,1.4],[2018.50,-2.1],[2018.52,0.6],[2018.54,-1.3],[2018.56,2.0],[2018.58,-0.2],[2018.60,-2.5],[2018.62,0.8],[2018.65,-1.1],[2018.68,0.4],[2018.71,-1.8],[2018.74,-0.6],
[2019.21,1.2],[2019.23,-0.6],[2019.25,2.3],[2019.26,0.4],[2019.28,-1.3],[2019.30,1.7],[2019.32,-0.2],[2019.34,-3.5],[2019.36,0.9],[2019.38,-1.0],[2019.40,1.4],[2019.42,-0.4],[2019.44,0.6],[2019.46,-1.9],[2019.48,1.9],[2019.50,-0.8],[2019.52,0.3],[2019.55,-1.4],[2019.58,0.8],[2019.62,-2.0],[2019.66,1.0],[2019.70,1.8],[2019.74,1.6],
[2014.67,-1.8],[2014.69,-0.5],[2014.71,-2.0],[2014.73,-1.2],
[2015.21,0.5],[2015.23,-1.0],[2015.25,1.6],[2015.27,-0.3],[2015.29,0.9],[2015.31,-1.6],[2015.33,0.2],[2015.35,1.3],[2015.37,-0.7],[2015.39,0.6],[2015.41,-1.9],[2015.43,1.1],[2015.45,-0.2],[2015.47,0.8],[2015.49,-1.3],[2015.51,0.4],[2015.53,-2.3],[2015.55,0.9],[2015.57,-0.6],[2015.59,1.5],[2015.61,-1.1],[2015.63,0.2],[2015.65,-0.8],[2015.67,1.8],[2015.70,-0.4],[2015.73,0.7],[2015.76,-1.3],
[2016.20,0.8],[2016.22,2.0],[2016.24,-0.3],[2016.26,1.3],[2016.28,0.4],[2016.30,2.6],[2016.32,-0.6],[2016.34,1.5],[2016.36,0.6],[2016.38,-0.9],[2016.40,1.8],[2016.42,0.2],[2016.44,2.2],[2016.46,-0.4],[2016.48,1.1],[2016.50,0.3],[2016.52,1.9],[2016.54,-0.6],[2016.56,0.7],[2016.58,1.4],[2016.60,-0.2],[2016.63,1.0],[2016.66,0.1],[2016.70,1.2],[2016.73,-0.3],
[2017.22,0.8],[2017.24,2.2],[2017.25,-0.2],[2017.27,1.4],[2017.29,0.1],[2017.31,2.0],[2017.33,-0.8],[2017.35,1.0],[2017.37,0.3],[2017.39,-1.2],[2017.41,1.7],[2017.43,0.0],[2017.45,1.2],[2017.47,-0.9],[2017.49,0.6],[2017.51,1.9],[2017.53,-0.5],[2017.55,0.8],[2017.57,-1.4],[2017.60,0.4],[2017.64,1.1],[2017.69,-0.3],
[2018.23,-0.4],[2018.25,1.0],[2018.27,-1.3],[2018.29,0.3],[2018.31,1.4],[2018.33,-0.6],[2018.35,0.8],[2018.37,-1.1],[2018.39,0.5],[2018.41,1.6],[2018.43,-0.2],[2018.45,0.7],[2018.47,-1.5],[2018.49,0.2],[2018.51,1.1],[2018.53,-0.8],[2018.55,0.4],[2018.57,-1.8],[2018.59,0.9],[2018.61,-0.4],[2018.64,0.6],[2018.67,-1.2],[2018.70,0.2],[2018.73,-0.9],
[2019.22,0.2],[2019.24,-1.1],[2019.25,0.8],[2019.27,1.5],[2019.29,-0.4],[2019.31,0.6],[2019.33,-1.6],[2019.35,0.3],[2019.37,1.2],[2019.39,-0.5],[2019.41,0.9],[2019.43,-1.3],[2019.45,0.1],[2019.47,1.3],[2019.49,-0.7],[2019.51,0.5],[2019.53,-1.0],[2019.56,0.8],[2019.60,-0.4],[2019.64,0.4],[2019.68,1.4],[2019.72,0.6]];
const RES_E = [[2014.66,0.4],[2014.69,0.8],
[2015.23,-5.5],[2015.25,0.8],[2015.27,-0.4],[2015.29,1.7],[2015.31,3.8],[2015.32,-0.9],[2015.34,1.2],[2015.36,-1.5],[2015.38,0.5],[2015.40,2.2],[2015.42,-0.6],[2015.44,1.0],[2015.46,-1.8],[2015.48,0.3],[2015.50,1.5],[2015.52,-1.1],[2015.54,2.6],[2015.56,0.0],[2015.58,-2.4],[2015.60,1.3],[2015.62,-0.8],[2015.64,3.9],[2015.66,0.6],[2015.68,-1.4],[2015.70,1.9],[2015.73,-0.2],[2015.76,0.9],
[2016.17,-1.2],[2016.19,0.9],[2016.21,-0.3],[2016.23,1.8],[2016.25,-2.0],[2016.27,5.7],[2016.29,0.4],[2016.31,2.7],[2016.33,-0.8],[2016.35,1.3],[2016.37,-3.6],[2016.39,0.7],[2016.41,-1.5],[2016.43,2.2],[2016.45,-0.4],[2016.47,1.0],[2016.49,-2.5],[2016.51,0.2],[2016.53,-1.0],[2016.55,3.1],[2016.57,-0.6],[2016.59,1.6],[2016.62,-1.9],[2016.65,0.5],[2016.68,-4.0],[2016.71,0.9],[2016.75,-1.2],[2016.80,-6.5],
[2017.20,0.6],[2017.24,2.4],[2017.26,-0.5],[2017.28,1.5],[2017.30,-2.0],[2017.32,0.8],[2017.34,3.5],[2017.36,-1.2],[2017.38,0.3],[2017.39,5.8],[2017.41,-0.7],[2017.43,1.9],[2017.45,-2.9],[2017.47,0.5],[2017.49,-1.4],[2017.51,2.6],[2017.53,-0.2],[2017.55,1.1],[2017.57,-1.8],[2017.59,0.4],[2017.62,-0.9],[2017.66,4.5],
[2018.20,0.9],[2018.22,2.5],[2018.24,-0.6],[2018.26,3.9],[2018.28,1.2],[2018.30,-1.3],[2018.32,0.5],[2018.34,2.8],[2018.36,-0.9],[2018.38,1.6],[2018.40,-2.2],[2018.42,0.3],[2018.44,-1.0],[2018.46,1.4],[2018.48,-3.1],[2018.50,0.6],[2018.52,-1.7],[2018.54,-4.0],[2018.56,0.1],[2018.58,-2.5],[2018.60,1.0],[2018.63,-0.5],[2018.66,-1.6],[2018.69,0.4],[2018.72,-0.9],
[2019.20,4.0],[2019.22,1.3],[2019.24,-0.5],[2019.26,2.1],[2019.28,-1.4],[2019.30,-6.2],[2019.32,1.6],[2019.34,-0.2],[2019.36,0.9],[2019.38,-1.8],[2019.40,2.8],[2019.42,-0.7],[2019.44,0.5],[2019.46,-1.2],[2019.48,1.4],[2019.50,-0.3],[2019.52,-2.1],[2019.55,0.6],[2019.58,-2.8],[2019.62,-1.5],
[2014.67,-0.3],[2014.70,1.2],
[2015.24,-0.6],[2015.26,1.1],[2015.28,0.2],[2015.30,-1.2],[2015.32,0.9],[2015.33,2.0],[2015.35,-0.4],[2015.37,0.7],[2015.39,-1.0],[2015.41,1.4],[2015.43,0.1],[2015.45,-1.4],[2015.47,0.9],[2015.49,-0.2],[2015.51,1.9],[2015.53,-0.7],[2015.55,0.6],[2015.57,-1.6],[2015.59,0.3],[2015.61,1.2],[2015.63,-0.9],[2015.65,0.5],[2015.67,-0.3],[2015.69,1.6],[2015.71,-1.1],[2015.74,0.4],[2015.77,-0.6],
[2016.18,0.5],[2016.20,-0.9],[2016.22,1.4],[2016.24,-0.2],[2016.26,0.8],[2016.28,-1.6],[2016.30,1.1],[2016.32,-0.3],[2016.34,2.0],[2016.36,0.2],[2016.38,-1.0],[2016.40,1.3],[2016.42,-0.4],[2016.44,0.6],[2016.46,-1.7],[2016.48,0.9],[2016.50,-0.1],[2016.52,1.7],[2016.54,-0.8],[2016.56,0.4],[2016.58,-1.3],[2016.60,0.7],[2016.63,-0.5],[2016.66,1.0],[2016.70,-0.8],[2016.73,0.3],
[2017.25,-0.4],[2017.27,1.1],[2017.29,0.3],[2017.31,-1.0],[2017.33,1.6],[2017.35,-0.3],[2017.37,0.9],[2017.40,-1.5],[2017.42,0.6],[2017.44,1.3],[2017.46,-0.6],[2017.48,0.2],[2017.50,-1.1],[2017.52,1.8],[2017.54,0.0],[2017.56,-0.9],[2017.58,0.8],[2017.60,-0.4],[2017.64,0.5],
[2018.21,-0.5],[2018.23,1.0],[2018.25,-1.4],[2018.27,0.2],[2018.29,1.7],[2018.31,-0.4],[2018.33,0.8],[2018.35,-1.1],[2018.37,0.4],[2018.39,-0.2],[2018.41,1.5],[2018.43,-0.8],[2018.45,0.3],[2018.47,-1.5],[2018.49,0.9],[2018.51,-0.6],[2018.53,0.5],[2018.55,-1.9],[2018.57,0.2],[2018.59,-0.9],[2018.62,0.7],[2018.65,-1.2],[2018.68,0.1],[2018.71,-0.5],
[2019.21,1.1],[2019.23,-0.3],[2019.25,0.6],[2019.27,-1.2],[2019.29,1.4],[2019.31,0.0],[2019.33,-0.8],[2019.35,0.9],[2019.37,-1.5],[2019.39,0.4],[2019.41,1.2],[2019.43,-0.6],[2019.45,0.2],[2019.47,-1.0],[2019.49,0.7],[2019.51,-0.5],[2019.53,1.0],[2019.56,-1.3],[2019.60,-0.2]];
const RES_F = [[2014.70,-1.2],
[2015.22,2.2],[2015.24,3.0],[2015.26,-1.0],[2015.28,1.2],[2015.30,4.8],[2015.32,0.1],[2015.34,-13.5],[2015.35,3.6],[2015.37,-0.8],[2015.39,1.5],[2015.41,-1.6],[2015.43,0.6],[2015.45,2.4],[2015.47,-0.4],[2015.49,1.0],[2015.51,-1.9],[2015.53,0.3],[2015.55,4.7],[2015.57,-1.2],[2015.59,0.8],[2015.61,-0.5],[2015.63,1.7],[2015.65,-1.5],[2015.67,0.4],[2015.70,-0.9],[2015.72,-6.5],[2015.76,0.2],
[2016.24,0.5],[2016.26,1.8],[2016.28,-0.7],[2016.30,2.5],[2016.32,0.9],[2016.34,-2.2],[2016.36,1.2],[2016.38,-0.3],[2016.40,1.6],[2016.42,-1.5],[2016.44,0.4],[2016.46,-0.9],[2016.48,2.1],[2016.50,-2.9],[2016.52,0.2],[2016.54,-1.2],[2016.56,1.3],[2016.58,-0.5],[2016.60,0.8],[2016.63,-1.8],[2016.66,0.3],[2016.69,1.9],[2016.72,-0.6],[2016.75,0.7],[2016.79,-1.1],[2016.83,0.5],
[2017.18,1.8],[2017.20,0.6],[2017.22,-0.7],[2017.24,1.2],[2017.26,-1.4],[2017.28,0.3],[2017.30,-9.8],[2017.31,1.5],[2017.33,-0.5],[2017.35,2.2],[2017.37,-1.2],[2017.39,4.2],[2017.41,0.4],[2017.43,-2.0],[2017.45,0.9],[2017.47,-0.6],[2017.49,1.6],[2017.51,-3.5],[2017.53,0.2],[2017.55,-1.6],[2017.57,0.7],[2017.60,-0.2],
[2018.22,2.0],[2018.24,0.6],[2018.25,4.8],[2018.27,5.7],[2018.28,-10.2],[2018.29,-9.4],[2018.30,1.5],[2018.32,-0.4],[2018.34,-7.8],[2018.36,2.2],[2018.38,-1.0],[2018.40,0.8],[2018.42,-1.8],[2018.44,1.4],[2018.46,-0.3],[2018.48,-5.0],[2018.50,0.9],[2018.52,-1.2],[2018.54,2.6],[2018.56,-0.7],[2018.58,1.1],[2018.60,-2.3],[2018.63,0.4],[2018.66,-1.5],[2018.70,-2.0],[2018.73,-5.0],
[2019.20,0.4],[2019.22,-5.5],[2019.24,1.2],[2019.25,-0.6],[2019.27,1.8],[2019.29,-8.0],[2019.30,0.5],[2019.32,2.4],[2019.34,-1.0],[2019.36,6.8],[2019.38,0.2],[2019.40,-1.5],[2019.42,1.0],[2019.44,-0.4],[2019.46,2.0],[2019.48,-1.2],[2019.50,0.6],[2019.52,-2.1],[2019.55,0.9],[2019.58,-0.8],[2019.62,0.3],[2019.65,-1.4],
[2015.23,0.6],[2015.25,-0.8],[2015.27,1.6],[2015.29,-0.2],[2015.31,0.9],[2015.33,-1.3],[2015.36,0.4],[2015.38,1.9],[2015.40,-0.6],[2015.42,0.8],[2015.44,-1.1],[2015.46,1.2],[2015.48,-0.3],[2015.50,2.0],[2015.52,0.2],[2015.54,-1.4],[2015.56,0.9],[2015.58,-0.4],[2015.60,1.4],[2015.62,-1.0],[2015.64,0.5],[2015.66,2.2],[2015.68,-0.7],[2015.71,0.6],[2015.74,-1.3],
[2016.25,-0.4],[2016.27,0.9],[2016.29,1.6],[2016.31,-0.8],[2016.33,0.3],[2016.35,1.2],[2016.37,-1.0],[2016.39,0.6],[2016.41,-0.2],[2016.43,1.4],[2016.45,-1.6],[2016.47,0.1],[2016.49,0.9],[2016.51,-0.7],[2016.53,1.6],[2016.55,-0.3],[2016.57,0.5],[2016.59,-1.2],[2016.61,1.1],[2016.64,0.0],[2016.67,-0.9],[2016.70,0.8],[2016.74,-0.3],[2016.77,1.2],[2016.81,0.2],
[2017.19,0.2],[2017.21,-1.0],[2017.23,0.8],[2017.25,2.0],[2017.27,-0.4],[2017.29,1.0],[2017.32,0.0],[2017.34,-1.3],[2017.36,0.7],[2017.38,1.5],[2017.40,-0.8],[2017.42,0.4],[2017.44,-1.4],[2017.46,0.9],[2017.48,-0.2],[2017.50,1.2],[2017.52,-0.9],[2017.54,0.3],[2017.56,-1.1],[2017.58,0.6],
[2018.23,-0.5],[2018.26,1.2],[2018.29,0.2],[2018.31,3.0],[2018.33,-0.8],[2018.35,0.9],[2018.37,-1.4],[2018.39,1.5],[2018.41,0.0],[2018.43,2.2],[2018.45,-0.6],[2018.47,0.7],[2018.49,-1.6],[2018.51,0.3],[2018.53,1.4],[2018.55,-0.9],[2018.57,0.5],[2018.59,-1.2],[2018.61,1.0],[2018.64,-0.4],[2018.68,-2.8],[2018.72,-1.6],
[2019.21,-0.9],[2019.23,0.7],[2019.26,-0.3],[2019.28,1.4],[2019.31,-1.2],[2019.33,0.4],[2019.35,1.0],[2019.37,-0.6],[2019.39,1.7],[2019.41,-0.2],[2019.43,0.9],[2019.45,-1.4],[2019.47,0.5],[2019.49,-0.8],[2019.51,1.2],[2019.53,-0.4],[2019.56,0.6],[2019.60,-1.1],[2019.63,0.3]];

// ---------------- LAYOUT ----------------
const H = 380;
const PANELS = [
  {fit:FIT_A, obs:OBS_A, res:RES_A, cx:0,   cy:0,   W:360, bottom:322},
  {fit:FIT_B, obs:OBS_B, res:RES_B, cx:330, cy:0,   W:360, bottom:322},
  {fit:FIT_C, obs:OBS_C, res:RES_C, cx:661, cy:0,   W:370, bottom:322},
  {fit:FIT_D, obs:OBS_D, res:RES_D, cx:0,   cy:379, W:360, bottom:320.5},
  {fit:FIT_E, obs:OBS_E, res:RES_E, cx:330, cy:379, W:360, bottom:320.5},
  {fit:FIT_F, obs:OBS_F, res:RES_F, cx:661, cy:379, W:370, bottom:320.5}
];
const TOP = 69, LEFTW = 72, RIGHTX = 305;

Chart.defaults.font.family = "'DejaVu Sans', sans-serif";
Chart.defaults.color = '#000';

const framePlugin = {
  id: 'frame',
  afterDraw(c) {
    const a = c.chartArea, ctx = c.ctx;
    ctx.save();
    ctx.strokeStyle = '#1a1a1a';
    ctx.lineWidth = 1;
    ctx.strokeRect(Math.round(a.left) + 0.5, Math.round(a.top) + 0.5, Math.round(a.right - a.left) - 1, Math.round(a.bottom - a.top) - 1);
    ctx.restore();
  }
};

const minusFmt = v => (v < 0 ? '\u2212' + Math.abs(v) : String(v));
const BLUE = '#1E90FF', RED = '#FF0000', PURPLE = '#BA55D3', GRID = '#c4c4c4';

PANELS.forEach((p, i) => {
  const cv = document.createElement('canvas');
  cv.width = p.W; cv.height = H;
  cv.style.cssText = `position:absolute;left:${p.cx}px;top:${p.cy}px;width:${p.W}px;height:${H}px`;
  document.body.appendChild(cv);

  const errSegs = [];
  p.obs.forEach(o => { errSegs.push({x:o[0], y:o[1]-o[2]}, {x:o[0], y:o[1]+o[2]}, {x:o[0], y:null}); });

  new Chart(cv, {
    type: 'line',
    data: { datasets: [
      {data: errSegs, borderColor: BLUE, borderWidth: 1, pointRadius: 0, spanGaps: false, yAxisID: 'y', order: 4},
      {data: p.obs.map(o => ({x:o[0], y:o[1]})), showLine: false, pointRadius: 2.1, pointBackgroundColor: BLUE, pointBorderWidth: 0, yAxisID: 'y', order: 3},
      {data: p.fit.map(f => ({x:f[0], y:f[1]})), borderColor: RED, borderWidth: 3, pointRadius: 0, cubicInterpolationMode: 'monotone', yAxisID: 'y', order: 2},
      {data: p.res.map(r => ({x:r[0], y:r[1]})), showLine: false, pointRadius: 2.5, pointBackgroundColor: PURPLE, pointBorderWidth: 0, yAxisID: 'y2', order: 1}
    ]},
    options: {
      responsive: false, animation: false, devicePixelRatio: 1, events: [],
      layout: { padding: {left: 0, right: 0, top: TOP, bottom: 0}, autoPadding: false },
      plugins: { legend: {display: false}, tooltip: {enabled: false}, title: {display: false} },
      scales: {
        x: {
          type: 'linear', min: 2014, max: 2020,
          afterBuildTicks: s => { s.ticks = XTICKS.map(v => ({value: v})); },
          afterFit: s => { s.height = H - p.bottom; },
          ticks: { autoSkip: false, minRotation: 90, maxRotation: 90, padding: 4, font: {size: 16}, callback: v => String(v) },
          grid: { color: GRID, lineWidth: 1, tickColor: '#000', tickLength: 5, tickWidth: 1 },
          border: { display: false }
        },
        y: {
          type: 'linear', position: 'left', min: 378, max: 420,
          afterBuildTicks: s => { s.ticks = YTICKS.map(v => ({value: v})); },
          afterFit: s => { s.width = LEFTW; },
          ticks: { padding: 2, font: {size: 17}, callback: v => String(v) },
          grid: { color: GRID, lineWidth: 1, tickColor: '#000', tickLength: 4, tickWidth: 1 },
          border: { display: false }
        },
        y2: {
          type: 'linear', position: 'right', min: -15, max: 60.7,
          afterBuildTicks: s => { s.ticks = Y2TICKS.map(v => ({value: v})); },
          afterFit: s => { s.width = p.W - RIGHTX; },
          ticks: { padding: 4, font: {size: 17}, callback: minusFmt },
          grid: { drawOnChartArea: false, tickColor: '#000', tickLength: 4, tickWidth: 1 },
          border: { display: false }
        }
      }
    },
    plugins: [framePlugin]
  });
});

// ---------------- TEXT ----------------
function addText(html, style, cls) {
  const d = document.createElement('div');
  d.className = 't ' + (cls || '');
  d.innerHTML = html;
  d.style.cssText = style;
  document.body.appendChild(d);
  return d;
}
addText('Asian Tundra zones', 'left:504.5px;top:18px;font-size:18.5px;', 'c');
const colCenter = [188.5, 518.5, 849.5];
const letterLeft = [49, 379.5, 711];
PANELS.forEach((p, i) => {
  const col = i % 3, row = Math.floor(i / 3);
  addText(TITLES[i], `left:${colCenter[col]}px;top:${row ? 435 : 56.7}px;font-size:18.5px;`, 'c');
  addText(LETTERS[i], `left:${letterLeft[col]}px;top:${row ? 419 : 39.5}px;font-size:15.5px;font-weight:bold;transform:translateY(-50%);`);
});
const yLab = 'Daily X<span class="sb">CO2</span> / ppm';
const y2Lab = 'Daily X<span class="sb">CO2</span> - Fit / ppm';
addText(yLab, 'left:20px;top:195.5px;font-size:17px;', 'r');
addText(yLab, 'left:20px;top:574px;font-size:17px;', 'r');
addText(y2Lab, 'left:1021px;top:194px;font-size:17px;', 'r');
addText(y2Lab, 'left:1021px;top:573px;font-size:17px;', 'r');

// ---------------- LEGEND ----------------
const lg = document.createElement('div');
lg.style.cssText = 'position:absolute;left:287px;top:760px;width:612px;height:70px;border:1px solid #cfcfcf;border-radius:4px;box-sizing:border-box;background:#fff;';
document.body.appendChild(lg);
const seg = (css) => { const d = document.createElement('div'); d.style.cssText = 'position:absolute;' + css; document.body.appendChild(d); };
seg(`left:308.5px;top:777px;width:1px;height:16px;background:${BLUE};`);
seg(`left:306.5px;top:782.5px;width:5px;height:5px;border-radius:50%;background:${BLUE};`);
seg(`left:543px;top:783px;width:34px;height:3px;background:${RED};`);
seg(`left:774.5px;top:783px;width:5px;height:5px;border-radius:50%;background:${PURPLE};`);
addText('Daily average <i>X</i><span class="sb">CO<span class="sb2">2</span></span>', 'left:339px;top:766.4px;font-size:15.2px;');
addText('\u00b1 standard deviation', 'left:345px;top:785.8px;font-size:15.2px;');
addText('Seasonal cycle fit', 'left:590px;top:777.4px;font-size:15.2px;');
addText('Fit residual', 'left:807px;top:777.4px;font-size:15.2px;');
</script>
</body></html>
